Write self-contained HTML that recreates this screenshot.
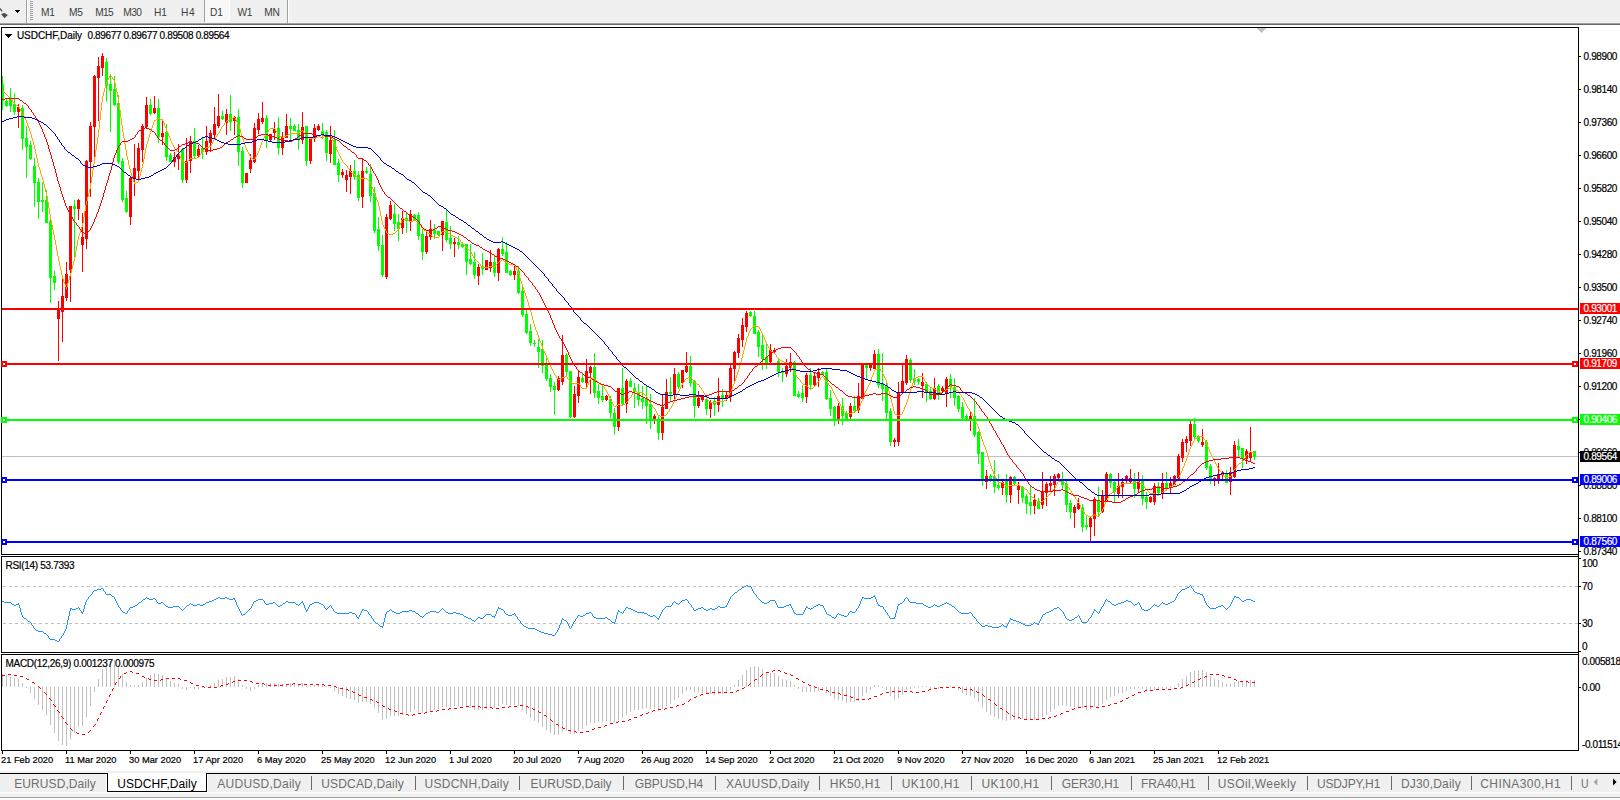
<!DOCTYPE html><html><head><meta charset="utf-8"><title>USDCHF,Daily</title><style>
html,body{margin:0;padding:0;background:#fff}
body{width:1620px;height:800px;position:relative;overflow:hidden;font-family:"Liberation Sans",sans-serif;color:#000}
.t{position:absolute;white-space:nowrap;line-height:12px;font-size:9px;-webkit-text-stroke:0.2px}
.ax{left:1584px}
.w{color:#fff}
.tb{position:absolute;left:0;top:0;width:1620px;height:23px;background:#f0f0f0}
.tf{position:absolute;top:7px;font-size:10.2px;line-height:12px;color:#404040;white-space:nowrap}
.tab{position:absolute;top:777px;font-size:12px;line-height:14px;color:#6e6e6e;white-space:nowrap}
svg{position:absolute;left:0;top:0}
</style></head><body>
<div class="tb"></div>
<div style="position:absolute;left:0;top:23px;width:1620px;height:1px;background:#a0a0a0"></div>
<div style="position:absolute;left:0;top:24px;width:1620px;height:1px;background:#696969"></div>
<div style="position:absolute;left:26px;top:0;width:1px;height:23px;background:#a0a0a0"></div><div style="position:absolute;left:27px;top:0;width:1px;height:23px;background:#fff"></div>
<div style="position:absolute;left:287px;top:0;width:1px;height:23px;background:#a0a0a0"></div><div style="position:absolute;left:288px;top:0;width:1px;height:23px;background:#fff"></div>
<div style="position:absolute;left:30px;top:1px;width:3px;height:20px;background:repeating-linear-gradient(#a0a0a0 0 1px,#f0f0f0 1px 2px)"></div>
<div style="position:absolute;left:204px;top:0;width:1px;height:22px;background:#a0a0a0"></div><div style="position:absolute;left:205px;top:0;width:24px;height:21px;background:#f8f8f8"></div><div style="position:absolute;left:229px;top:0;width:1px;height:22px;background:#fff"></div><div style="position:absolute;left:205px;top:21px;width:25px;height:1px;background:#fff"></div>
<span class="tf" style="left:41.1px;letter-spacing:-0.43px">M1</span>
<span class="tf" style="left:69.0px;letter-spacing:-0.33px">M5</span>
<span class="tf" style="left:95.2px;letter-spacing:-0.65px">M15</span>
<span class="tf" style="left:123.3px;letter-spacing:-0.65px">M30</span>
<span class="tf" style="left:154.0px;letter-spacing:-0.21px">H1</span>
<span class="tf" style="left:180.9px;letter-spacing:0.69px">H4</span>
<span class="tf" style="left:210.0px;letter-spacing:-0.21px">D1</span>
<span class="tf" style="left:237.4px;letter-spacing:-0.16px">W1</span>
<span class="tf" style="left:264.2px;letter-spacing:-0.22px">MN</span>
<svg width="1620" height="800" viewBox="0 0 1620 800" shape-rendering="crispEdges">
<path d="M15 10h5l-2.5 3z" fill="#000"/><path shape-rendering="auto" d="M1 14.3L4.2 12.7L7.9 14.9L4.5 18.2z" fill="#505050"/><path shape-rendering="auto" d="M-0.5 8.2l2.8 3.2" stroke="#505050" stroke-width="1.4" fill="none"/>
<path d="M5 34h7l-3.5 4z" fill="#000"/>
<rect x="2" y="456" width="1576" height="1" fill="#c0c0c0"/>
<path fill="#00ff00" d="M2 76h1v34h-1zM1 84h3v17h-3zM6 99h1v8h-1zM5 101h3v5h-3zM10 88h1v24h-1zM9 99h3v7h-3zM14 93h1v22h-1zM13 104h3v8h-3zM22 105h1v45h-1zM21 108h3v31h-3zM26 126h1v52h-1zM25 138h3v9h-3zM30 141h1v19h-1zM29 145h3v14h-3zM34 158h1v49h-1zM33 166h3v17h-3zM38 178h1v41h-1zM37 182h3v20h-3zM42 182h1v30h-1zM41 200h3v2h-3zM46 190h1v33h-1zM45 200h3v23h-3zM50 219h1v84h-1zM49 221h3v57h-3zM54 271h1v19h-1zM53 276h3v7h-3zM74 200h1v58h-1zM73 206h3v3h-3zM106 58h1v44h-1zM105 62h3v24h-3zM110 74h1v58h-1zM109 84h3v7h-3zM114 76h1v30h-1zM113 89h3v16h-3zM118 95h1v69h-1zM117 103h3v59h-3zM122 158h1v44h-1zM121 161h3v39h-3zM126 191h1v22h-1zM125 198h3v14h-3zM150 99h1v16h-1zM149 105h3v9h-3zM158 99h1v44h-1zM157 108h3v29h-3zM166 124h1v37h-1zM165 132h3v25h-3zM170 153h1v9h-1zM169 155h3v7h-3zM182 148h1v35h-1zM181 149h3v31h-3zM194 128h1v31h-1zM193 141h3v15h-3zM202 138h1v21h-1zM201 148h3v4h-3zM222 111h1v9h-1zM221 116h3v3h-3zM230 95h1v36h-1zM229 114h3v8h-3zM238 109h1v57h-1zM237 117h3v35h-3zM242 147h1v41h-1zM241 151h3v32h-3zM266 115h1v33h-1zM265 118h3v22h-3zM278 117h1v38h-1zM277 128h3v20h-3zM290 118h1v23h-1zM289 126h3v3h-3zM294 124h1v7h-1zM293 126h3v5h-3zM298 124h1v26h-1zM297 130h3v9h-3zM306 126h1v40h-1zM305 126h3v35h-3zM322 123h1v16h-1zM321 131h3v3h-3zM326 130h1v31h-1zM325 132h3v21h-3zM334 130h1v35h-1zM333 140h3v25h-3zM338 159h1v23h-1zM337 163h3v12h-3zM354 160h1v20h-1zM353 171h3v6h-3zM358 171h1v30h-1zM357 175h3v23h-3zM366 167h1v7h-1zM365 171h3v2h-3zM370 164h1v38h-1zM369 174h3v22h-3zM374 187h1v46h-1zM373 193h3v38h-3zM378 217h1v34h-1zM377 229h3v17h-3zM382 235h1v42h-1zM381 245h3v30h-3zM394 204h1v27h-1zM393 214h3v10h-3zM398 214h1v27h-1zM397 222h3v7h-3zM406 213h1v20h-1zM405 218h3v3h-3zM414 214h1v6h-1zM413 215h3v5h-3zM418 212h1v28h-1zM417 215h3v21h-3zM422 228h1v32h-1zM421 234h3v18h-3zM434 224h1v15h-1zM433 230h3v4h-3zM438 231h1v5h-1zM437 231h3v4h-3zM446 209h1v33h-1zM445 222h3v18h-3zM450 226h1v23h-1zM449 238h3v6h-3zM458 236h1v13h-1zM457 242h3v3h-3zM462 242h1v6h-1zM461 244h3v3h-3zM466 244h1v31h-1zM465 244h3v18h-3zM470 244h1v21h-1zM469 259h3v5h-3zM474 252h1v27h-1zM473 262h3v13h-3zM482 253h1v22h-1zM481 266h3v3h-3zM494 256h1v21h-1zM493 262h3v11h-3zM502 237h1v19h-1zM501 249h3v5h-3zM506 242h1v31h-1zM505 252h3v21h-3zM510 270h1v6h-1zM509 271h3v4h-3zM518 266h1v28h-1zM517 271h3v22h-3zM522 287h1v30h-1zM521 291h3v24h-3zM526 310h1v24h-1zM525 314h3v19h-3zM530 324h1v22h-1zM529 331h3v12h-3zM534 340h1v7h-1zM533 343h3v1h-3zM538 339h1v29h-1zM537 347h3v5h-3zM542 340h1v33h-1zM541 349h3v17h-3zM546 357h1v24h-1zM545 365h3v14h-3zM550 374h1v18h-1zM549 378h3v9h-3zM554 382h1v33h-1zM553 386h3v4h-3zM566 353h1v23h-1zM565 355h3v17h-3zM570 371h1v47h-1zM569 371h3v46h-3zM582 374h1v9h-1zM581 378h3v4h-3zM594 353h1v45h-1zM593 367h3v26h-3zM598 384h1v20h-1zM597 391h3v7h-3zM602 386h1v16h-1zM601 396h3v4h-3zM610 396h1v22h-1zM609 399h3v14h-3zM614 408h1v27h-1zM613 413h3v14h-3zM622 368h1v37h-1zM621 388h3v16h-3zM630 378h1v9h-1zM629 381h3v6h-3zM634 383h1v25h-1zM633 388h3v4h-3zM638 384h1v22h-1zM637 392h3v8h-3zM642 386h1v23h-1zM641 398h3v4h-3zM646 385h1v39h-1zM645 399h3v7h-3zM650 394h1v35h-1zM649 404h3v17h-3zM658 416h1v24h-1zM657 419h3v14h-3zM670 377h1v25h-1zM669 392h3v2h-3zM678 372h1v17h-1zM677 374h3v13h-3zM690 356h1v31h-1zM689 366h3v17h-3zM694 380h1v38h-1zM693 381h3v25h-3zM706 398h1v17h-1zM705 399h3v10h-3zM714 397h1v19h-1zM713 401h3v4h-3zM722 389h1v18h-1zM721 395h3v4h-3zM750 311h1v6h-1zM749 312h3v4h-3zM754 311h1v23h-1zM753 316h3v18h-3zM758 330h1v27h-1zM757 332h3v15h-3zM762 334h1v36h-1zM761 345h3v14h-3zM766 342h1v27h-1zM765 357h3v6h-3zM778 359h1v18h-1zM777 361h3v11h-3zM782 368h1v14h-1zM781 371h3v2h-3zM794 361h1v35h-1zM793 362h3v34h-3zM798 391h1v7h-1zM797 394h3v3h-3zM802 385h1v17h-1zM801 393h3v5h-3zM810 368h1v21h-1zM809 375h3v10h-3zM822 371h1v4h-1zM821 372h3v3h-3zM826 368h1v32h-1zM825 372h3v27h-3zM830 390h1v26h-1zM829 398h3v11h-3zM834 406h1v20h-1zM833 407h3v13h-3zM842 398h1v27h-1zM841 406h3v10h-3zM846 411h1v9h-1zM845 413h3v6h-3zM854 396h1v17h-1zM853 406h3v5h-3zM866 364h1v15h-1zM865 365h3v3h-3zM878 349h1v39h-1zM877 354h3v31h-3zM882 353h1v48h-1zM881 383h3v6h-3zM886 382h1v37h-1zM885 386h3v27h-3zM890 408h1v38h-1zM889 411h3v31h-3zM910 358h1v25h-1zM909 360h3v20h-3zM914 369h1v16h-1zM913 378h3v3h-3zM918 378h1v7h-1zM917 379h3v3h-3zM926 382h1v20h-1zM925 384h3v9h-3zM930 387h1v13h-1zM929 391h3v8h-3zM938 384h1v16h-1zM937 386h3v8h-3zM950 374h1v24h-1zM949 379h3v8h-3zM954 378h1v28h-1zM953 387h3v11h-3zM958 395h1v17h-1zM957 396h3v13h-3zM962 402h1v18h-1zM961 407h3v11h-3zM966 414h1v6h-1zM965 416h3v3h-3zM974 398h1v39h-1zM973 416h3v19h-3zM978 431h1v33h-1zM977 432h3v22h-3zM982 452h1v34h-1zM981 452h3v28h-3zM990 474h1v8h-1zM989 476h3v5h-3zM994 460h1v33h-1zM993 476h3v11h-3zM998 474h1v16h-1zM997 485h3v3h-3zM1006 474h1v29h-1zM1005 481h3v14h-3zM1014 476h1v9h-1zM1013 477h3v7h-3zM1022 486h1v17h-1zM1021 487h3v11h-3zM1026 494h1v20h-1zM1025 496h3v8h-3zM1030 485h1v30h-1zM1029 502h3v4h-3zM1038 498h1v11h-1zM1037 501h3v8h-3zM1062 472h1v18h-1zM1061 481h3v4h-3zM1066 481h1v31h-1zM1065 484h3v21h-3zM1070 500h1v19h-1zM1069 503h3v9h-3zM1082 504h1v28h-1zM1081 507h3v20h-3zM1086 516h1v14h-1zM1085 525h3v2h-3zM1098 487h1v29h-1zM1097 501h3v11h-3zM1110 473h1v15h-1zM1109 474h3v9h-3zM1114 481h1v22h-1zM1113 482h3v10h-3zM1134 473h1v25h-1zM1133 479h3v10h-3zM1142 475h1v30h-1zM1141 481h3v18h-3zM1146 492h1v17h-1zM1145 497h3v5h-3zM1158 482h1v13h-1zM1157 486h3v7h-3zM1166 472h1v19h-1zM1165 483h3v6h-3zM1194 418h1v22h-1zM1193 424h3v13h-3zM1198 435h1v8h-1zM1197 436h3v5h-3zM1206 440h1v30h-1zM1205 442h3v26h-3zM1210 464h1v20h-1zM1209 466h3v14h-3zM1226 470h1v13h-1zM1225 474h3v9h-3zM1238 439h1v19h-1zM1237 446h3v4h-3zM1242 448h1v20h-1zM1241 448h3v11h-3zM1254 451h1v9h-1zM1253 451h3v6h-3z"/>
<path fill="#ff0000" d="M18 104h1v24h-1zM17 107h3v5h-3zM58 301h1v60h-1zM57 309h3v10h-3zM62 279h1v63h-1zM61 296h3v16h-3zM66 262h1v39h-1zM65 274h3v24h-3zM70 206h1v96h-1zM69 206h3v64h-3zM78 199h1v21h-1zM77 200h3v9h-3zM82 213h1v59h-1zM81 237h3v8h-3zM86 160h1v89h-1zM85 161h3v78h-3zM90 122h1v75h-1zM89 126h3v36h-3zM94 75h1v83h-1zM93 76h3v51h-3zM98 57h1v64h-1zM97 66h3v12h-3zM102 53h1v23h-1zM101 56h3v12h-3zM130 176h1v49h-1zM129 178h3v39h-3zM134 144h1v52h-1zM133 168h3v11h-3zM138 143h1v37h-1zM137 148h3v23h-3zM142 124h1v38h-1zM141 126h3v24h-3zM146 97h1v32h-1zM145 105h3v22h-3zM154 96h1v18h-1zM153 108h3v5h-3zM162 121h1v24h-1zM161 133h3v4h-3zM174 152h1v15h-1zM173 157h3v5h-3zM178 144h1v26h-1zM177 154h3v5h-3zM186 138h1v45h-1zM185 161h3v19h-3zM190 136h1v37h-1zM189 141h3v20h-3zM198 145h1v12h-1zM197 149h3v7h-3zM206 126h1v29h-1zM205 141h3v11h-3zM210 130h1v22h-1zM209 133h3v10h-3zM214 107h1v31h-1zM213 124h3v11h-3zM218 94h1v34h-1zM217 116h3v10h-3zM226 109h1v26h-1zM225 114h3v9h-3zM234 116h1v19h-1zM233 117h3v4h-3zM246 173h1v10h-1zM245 173h3v10h-3zM250 154h1v19h-1zM249 160h3v9h-3zM254 123h1v40h-1zM253 128h3v34h-3zM258 113h1v21h-1zM257 119h3v11h-3zM262 102h1v22h-1zM261 118h3v4h-3zM270 134h1v7h-1zM269 134h3v6h-3zM274 122h1v18h-1zM273 129h3v4h-3zM282 132h1v23h-1zM281 137h3v11h-3zM286 114h1v24h-1zM285 126h3v12h-3zM302 112h1v32h-1zM301 127h3v13h-3zM310 137h1v27h-1zM309 138h3v23h-3zM314 124h1v18h-1zM313 128h3v10h-3zM318 124h1v7h-1zM317 126h3v4h-3zM330 126h1v37h-1zM329 140h3v14h-3zM342 169h1v9h-1zM341 172h3v3h-3zM346 170h1v22h-1zM345 175h3v5h-3zM350 165h1v29h-1zM349 171h3v6h-3zM362 158h1v50h-1zM361 171h3v26h-3zM386 214h1v65h-1zM385 217h3v60h-3zM390 201h1v19h-1zM389 205h3v14h-3zM402 211h1v23h-1zM401 218h3v10h-3zM410 210h1v21h-1zM409 214h3v7h-3zM426 230h1v24h-1zM425 236h3v16h-3zM430 220h1v20h-1zM429 229h3v8h-3zM442 221h1v30h-1zM441 221h3v14h-3zM454 238h1v19h-1zM453 242h3v2h-3zM478 264h1v21h-1zM477 267h3v9h-3zM486 260h1v10h-1zM485 260h3v10h-3zM490 250h1v22h-1zM489 262h3v6h-3zM498 248h1v33h-1zM497 249h3v24h-3zM514 264h1v16h-1zM513 271h3v4h-3zM558 376h1v15h-1zM557 378h3v12h-3zM562 335h1v50h-1zM561 355h3v27h-3zM574 386h1v32h-1zM573 394h3v23h-3zM578 371h1v32h-1zM577 377h3v19h-3zM586 359h1v28h-1zM585 371h3v12h-3zM590 366h1v28h-1zM589 367h3v6h-3zM606 395h1v6h-1zM605 396h3v4h-3zM618 388h1v43h-1zM617 388h3v39h-3zM626 379h1v34h-1zM625 381h3v23h-3zM654 414h1v10h-1zM653 416h3v4h-3zM662 394h1v46h-1zM661 407h3v26h-3zM666 379h1v30h-1zM665 392h3v17h-3zM674 368h1v33h-1zM673 374h3v20h-3zM682 370h1v18h-1zM681 370h3v13h-3zM686 352h1v21h-1zM685 366h3v6h-3zM698 391h1v17h-1zM697 398h3v8h-3zM702 396h1v6h-1zM701 396h3v4h-3zM710 400h1v18h-1zM709 402h3v7h-3zM718 378h1v34h-1zM717 396h3v9h-3zM726 392h1v9h-1zM725 395h3v4h-3zM730 365h1v37h-1zM729 368h3v29h-3zM734 351h1v30h-1zM733 352h3v17h-3zM738 334h1v24h-1zM737 338h3v15h-3zM742 318h1v29h-1zM741 325h3v15h-3zM746 311h1v21h-1zM745 313h3v14h-3zM770 344h1v19h-1zM769 350h3v12h-3zM774 348h1v5h-1zM773 350h3v2h-3zM786 359h1v18h-1zM785 366h3v8h-3zM790 353h1v19h-1zM789 362h3v6h-3zM806 373h1v30h-1zM805 375h3v22h-3zM814 372h1v14h-1zM813 376h3v9h-3zM818 368h1v19h-1zM817 372h3v6h-3zM838 403h1v21h-1zM837 406h3v14h-3zM850 403h1v17h-1zM849 406h3v11h-3zM858 383h1v30h-1zM857 396h3v14h-3zM862 364h1v35h-1zM861 365h3v34h-3zM870 364h1v7h-1zM869 365h3v3h-3zM874 350h1v19h-1zM873 354h3v15h-3zM894 438h1v9h-1zM893 440h3v2h-3zM898 382h1v64h-1zM897 392h3v50h-3zM902 364h1v29h-1zM901 381h3v11h-3zM906 355h1v30h-1zM905 359h3v24h-3zM922 373h1v25h-1zM921 382h3v4h-3zM934 378h1v22h-1zM933 388h3v11h-3zM942 386h1v6h-1zM941 388h3v3h-3zM946 377h1v30h-1zM945 379h3v14h-3zM970 412h1v19h-1zM969 416h3v4h-3zM986 470h1v19h-1zM985 476h3v6h-3zM1002 481h1v14h-1zM1001 482h3v6h-3zM1010 476h1v27h-1zM1009 477h3v18h-3zM1018 482h1v22h-1zM1017 486h3v4h-3zM1034 494h1v20h-1zM1033 500h3v6h-3zM1042 472h1v37h-1zM1041 491h3v14h-3zM1046 482h1v24h-1zM1045 484h3v9h-3zM1050 476h1v16h-1zM1049 483h3v3h-3zM1054 474h1v22h-1zM1053 476h3v9h-3zM1058 473h1v7h-1zM1057 474h3v4h-3zM1074 505h1v23h-1zM1073 507h3v6h-3zM1078 498h1v12h-1zM1077 503h3v6h-3zM1090 517h1v25h-1zM1089 518h3v9h-3zM1094 497h1v39h-1zM1093 499h3v20h-3zM1102 490h1v23h-1zM1101 496h3v16h-3zM1106 472h1v30h-1zM1105 474h3v27h-3zM1118 473h1v25h-1zM1117 486h3v8h-3zM1122 478h1v20h-1zM1121 482h3v5h-3zM1126 475h1v9h-1zM1125 476h3v5h-3zM1130 469h1v14h-1zM1129 478h3v4h-3zM1138 472h1v21h-1zM1137 481h3v8h-3zM1150 496h1v7h-1zM1149 497h3v5h-3zM1154 483h1v22h-1zM1153 486h3v16h-3zM1162 473h1v26h-1zM1161 483h3v10h-3zM1170 477h1v16h-1zM1169 483h3v5h-3zM1174 475h1v10h-1zM1173 476h3v9h-3zM1178 454h1v27h-1zM1177 456h3v24h-3zM1182 439h1v23h-1zM1181 442h3v16h-3zM1186 436h1v16h-1zM1185 439h3v4h-3zM1190 421h1v25h-1zM1189 424h3v17h-3zM1202 429h1v18h-1zM1201 442h3v3h-3zM1214 477h1v9h-1zM1213 478h3v2h-3zM1218 463h1v21h-1zM1217 474h3v6h-3zM1222 471h1v8h-1zM1221 472h3v3h-3zM1230 467h1v28h-1zM1229 472h3v10h-3zM1234 441h1v37h-1zM1233 445h3v32h-3zM1246 449h1v15h-1zM1245 451h3v8h-3zM1250 427h1v35h-1zM1249 452h3v6h-3z"/>
<path fill="#ffa500" d="M2 90h1v1h-1zM3 91h1v1h-1zM4 92h1v1h-1zM5 93h1v1h-1zM6 94h1v1h-1zM7 95h1v1h-1zM8 96h1v1h-1zM9 97h1v1h-1zM10 98h1v1h-1zM11 99h1v1h-1zM12 100h1v2h-1zM13 102h1v1h-1zM14 103h1v1h-1zM15 104h1v1h-1zM16 105h2v1h-2zM18 106h1v1h-1zM19 107h1v2h-1zM20 109h1v2h-1zM21 111h1v2h-1zM22 113h1v1h-1zM23 114h1v2h-1zM24 116h1v2h-1zM25 118h1v2h-1zM26 120h1v3h-1zM27 123h1v3h-1zM28 126h1v2h-1zM29 128h1v3h-1zM30 131h1v3h-1zM31 134h1v4h-1zM32 138h1v3h-1zM33 141h1v4h-1zM34 145h1v4h-1zM35 149h1v5h-1zM36 154h1v4h-1zM37 158h1v5h-1zM38 163h1v4h-1zM39 167h1v3h-1zM40 170h1v4h-1zM41 174h1v3h-1zM42 177h1v3h-1zM43 180h1v4h-1zM44 184h1v4h-1zM45 188h1v4h-1zM46 192h1v4h-1zM47 196h1v6h-1zM48 202h1v6h-1zM49 208h1v6h-1zM50 214h1v6h-1zM51 220h1v5h-1zM52 225h1v5h-1zM53 230h1v5h-1zM54 235h1v5h-1zM55 240h1v5h-1zM56 245h1v6h-1zM57 251h1v5h-1zM58 256h1v5h-1zM59 261h1v5h-1zM60 266h1v4h-1zM61 270h1v5h-1zM62 275h1v4h-1zM63 279h1v3h-1zM64 282h1v2h-1zM65 284h1v3h-1zM66 287h1v2h-1zM67 283h1v4h-1zM68 280h1v3h-1zM69 276h1v4h-1zM70 273h1v3h-1zM71 269h1v4h-1zM72 265h1v4h-1zM73 261h1v4h-1zM74 257h1v4h-1zM75 251h1v6h-1zM76 246h1v5h-1zM77 240h1v6h-1zM78 236h1v4h-1zM79 233h1v3h-1zM80 230h1v3h-1zM81 227h1v3h-1zM82 223h1v4h-1zM83 217h1v6h-1zM84 211h1v6h-1zM85 205h1v6h-1zM86 201h1v4h-1zM87 197h1v4h-1zM88 193h1v4h-1zM89 189h1v4h-1zM90 183h1v6h-1zM91 177h1v6h-1zM92 170h1v7h-1zM93 164h1v6h-1zM94 157h1v7h-1zM95 150h1v7h-1zM96 144h1v6h-1zM97 137h1v7h-1zM98 129h1v8h-1zM99 120h1v9h-1zM100 111h1v9h-1zM101 102h1v9h-1zM102 96h1v6h-1zM103 92h1v4h-1zM104 88h1v4h-1zM105 84h1v4h-1zM106 82h1v2h-1zM107 80h1v2h-1zM108 78h1v2h-1zM109 76h1v2h-1zM110 75h1v1h-1zM111 76h1v1h-1zM112 77h1v2h-1zM113 79h1v1h-1zM114 80h1v3h-1zM115 83h1v5h-1zM116 88h1v4h-1zM117 92h1v5h-1zM118 97h1v6h-1zM119 103h1v7h-1zM120 110h1v8h-1zM121 118h1v7h-1zM122 125h1v7h-1zM123 132h1v6h-1zM124 138h1v6h-1zM125 144h1v6h-1zM126 150h1v6h-1zM127 156h1v4h-1zM128 160h1v5h-1zM129 165h1v4h-1zM130 169h1v4h-1zM131 173h1v3h-1zM132 176h1v3h-1zM133 179h1v3h-1zM134 182h1v1h-1zM134 183h2v1h-2zM136 182h2v1h-2zM138 180h1v2h-1zM139 176h1v4h-1zM140 172h1v4h-1zM141 168h1v4h-1zM142 164h1v4h-1zM143 159h1v5h-1zM144 153h1v6h-1zM145 148h1v5h-1zM146 144h1v4h-1zM147 141h1v3h-1zM148 137h1v4h-1zM149 134h1v3h-1zM150 131h1v3h-1zM151 128h1v3h-1zM152 125h1v3h-1zM153 122h1v3h-1zM154 121h1v1h-1zM154 120h2v1h-2zM156 119h2v1h-2zM158 118h2v1h-2zM160 119h3v1h-3zM162 120h1v1h-1zM163 121h1v2h-1zM164 123h1v3h-1zM165 126h1v2h-1zM166 128h1v3h-1zM167 131h1v2h-1zM168 133h1v3h-1zM169 136h1v2h-1zM170 138h1v3h-1zM171 141h1v2h-1zM172 143h1v2h-1zM173 145h1v2h-1zM174 147h1v2h-1zM175 149h1v1h-1zM176 150h1v1h-1zM177 151h1v1h-1zM178 152h1v2h-1zM179 154h1v2h-1zM180 156h1v2h-1zM181 158h1v2h-1zM182 160h1v1h-1zM182 161h2v1h-2zM184 162h3v1h-3zM187 161h1v1h-1zM188 160h1v1h-1zM189 159h1v1h-1zM190 158h7v1h-7zM197 157h2v1h-2zM199 155h1v2h-1zM200 154h1v1h-1zM201 152h1v2h-1zM202 151h1v1h-1zM203 150h1v1h-1zM204 149h1v1h-1zM205 148h1v1h-1zM206 147h3v1h-3zM209 146h2v1h-2zM211 144h1v2h-1zM212 142h1v2h-1zM213 140h1v2h-1zM214 139h1v1h-1zM215 137h1v2h-1zM216 136h1v1h-1zM217 134h1v2h-1zM218 133h1v1h-1zM219 131h1v2h-1zM220 129h1v2h-1zM221 127h1v2h-1zM222 126h1v1h-1zM223 125h1v1h-1zM224 123h1v2h-1zM225 122h1v1h-1zM226 121h1v1h-1zM227 120h2v1h-2zM229 119h1v1h-1zM230 118h3v1h-3zM233 117h2v1h-2zM235 118h1v2h-1zM236 120h1v2h-1zM237 122h1v2h-1zM238 124h1v2h-1zM239 126h1v3h-1zM240 129h1v4h-1zM241 133h1v3h-1zM242 136h1v3h-1zM243 139h1v3h-1zM244 142h1v3h-1zM245 145h1v3h-1zM246 148h1v2h-1zM247 150h1v2h-1zM248 152h1v2h-1zM249 154h1v2h-1zM250 156h1v2h-1zM251 158h2v1h-2zM253 159h2v1h-2zM255 157h1v2h-1zM256 155h1v2h-1zM257 153h1v2h-1zM258 151h1v2h-1zM259 148h1v3h-1zM260 145h1v3h-1zM261 142h1v3h-1zM262 140h1v2h-1zM263 138h1v2h-1zM264 136h1v2h-1zM265 134h1v2h-1zM266 133h1v1h-1zM267 132h1v1h-1zM268 130h1v2h-1zM269 129h1v1h-1zM270 128h5v1h-5zM275 129h1v2h-1zM276 131h1v1h-1zM277 132h1v2h-1zM278 134h1v1h-1zM279 135h1v1h-1zM280 136h2v1h-2zM282 137h2v1h-2zM284 136h2v1h-2zM286 135h2v1h-2zM288 134h2v1h-2zM290 133h7v1h-7zM297 132h3v1h-3zM300 131h2v1h-2zM302 130h1v1h-1zM303 131h1v2h-1zM304 133h1v1h-1zM305 134h1v2h-1zM306 136h1v1h-1zM307 137h2v1h-2zM309 138h7v1h-7zM316 137h2v1h-2zM318 136h2v1h-2zM320 137h4v1h-4zM324 136h2v1h-2zM326 135h2v1h-2zM328 136h3v1h-3zM331 137h1v2h-1zM332 139h1v2h-1zM333 141h1v2h-1zM334 143h1v2h-1zM335 145h1v2h-1zM336 147h1v3h-1zM337 150h1v2h-1zM338 152h1v2h-1zM339 154h1v2h-1zM340 156h1v2h-1zM341 158h1v2h-1zM342 160h1v2h-1zM343 162h1v1h-1zM344 163h1v1h-1zM345 164h1v1h-1zM346 165h1v1h-1zM347 166h1v2h-1zM348 168h1v1h-1zM349 169h1v2h-1zM350 171h1v1h-1zM351 172h1v1h-1zM352 173h2v1h-2zM354 174h1v1h-1zM355 175h1v1h-1zM356 176h1v1h-1zM357 177h1v1h-1zM358 178h9v1h-9zM367 179h1v1h-1zM368 180h1v1h-1zM369 181h1v1h-1zM370 182h1v2h-1zM371 184h1v3h-1zM372 187h1v2h-1zM373 189h1v3h-1zM374 192h1v3h-1zM375 195h1v2h-1zM376 197h1v3h-1zM377 200h1v2h-1zM378 202h1v4h-1zM379 206h1v5h-1zM380 211h1v5h-1zM381 216h1v5h-1zM382 221h1v4h-1zM383 225h1v2h-1zM384 227h1v2h-1zM385 229h1v2h-1zM386 231h1v2h-1zM387 233h2v1h-2zM389 234h4v1h-4zM393 233h2v1h-2zM395 232h1v1h-1zM396 231h1v1h-1zM397 230h1v1h-1zM398 228h1v2h-1zM399 225h1v3h-1zM400 223h1v2h-1zM401 220h1v3h-1zM402 219h1v1h-1zM402 218h2v1h-2zM404 219h3v1h-3zM407 220h2v1h-2zM409 221h4v1h-4zM413 220h3v1h-3zM416 221h3v1h-3zM419 222h1v2h-1zM420 224h1v2h-1zM421 226h1v2h-1zM422 228h1v1h-1zM423 229h1v1h-1zM424 230h2v1h-2zM426 231h1v1h-1zM427 232h1v1h-1zM428 233h2v1h-2zM430 234h1v1h-1zM431 235h1v1h-1zM432 236h2v1h-2zM434 237h5v1h-5zM439 235h1v2h-1zM440 234h1v1h-1zM441 232h1v2h-1zM442 231h5v1h-5zM447 232h1v1h-1zM448 233h2v1h-2zM450 234h1v1h-1zM451 235h2v1h-2zM453 236h2v1h-2zM455 237h2v1h-2zM457 238h2v1h-2zM459 239h1v1h-1zM460 240h1v2h-1zM461 242h1v1h-1zM462 243h1v1h-1zM463 244h1v1h-1zM464 245h1v1h-1zM465 246h1v1h-1zM466 247h1v1h-1zM467 248h1v1h-1zM468 249h1v1h-1zM469 250h1v1h-1zM470 251h1v1h-1zM471 252h1v2h-1zM472 254h1v2h-1zM473 256h1v2h-1zM474 258h1v1h-1zM475 259h1v1h-1zM476 260h1v1h-1zM477 261h1v1h-1zM478 262h1v1h-1zM479 263h1v1h-1zM480 264h1v2h-1zM481 266h1v1h-1zM482 267h7v1h-7zM489 266h6v1h-6zM495 265h1v1h-1zM496 264h1v1h-1zM497 263h1v1h-1zM498 262h1v1h-1zM499 261h2v1h-2zM501 260h1v1h-1zM502 259h1v1h-1zM503 260h1v1h-1zM504 261h2v1h-2zM506 262h1v1h-1zM507 263h2v1h-2zM509 264h6v1h-6zM514 265h1v1h-1zM515 266h1v2h-1zM516 268h1v2h-1zM517 270h1v2h-1zM518 272h1v3h-1zM519 275h1v3h-1zM520 278h1v3h-1zM521 281h1v3h-1zM522 284h1v3h-1zM523 287h1v3h-1zM524 290h1v3h-1zM525 293h1v3h-1zM526 296h1v3h-1zM527 299h1v3h-1zM528 302h1v4h-1zM529 306h1v3h-1zM530 309h1v3h-1zM531 312h1v4h-1zM532 316h1v4h-1zM533 320h1v4h-1zM534 324h1v3h-1zM535 327h1v3h-1zM536 330h1v2h-1zM537 332h1v3h-1zM538 335h1v3h-1zM539 338h1v3h-1zM540 341h1v2h-1zM541 343h1v3h-1zM542 346h1v3h-1zM543 349h1v2h-1zM544 351h1v2h-1zM545 353h1v2h-1zM546 355h1v3h-1zM547 358h1v2h-1zM548 360h1v2h-1zM549 362h1v2h-1zM550 364h1v3h-1zM551 367h1v2h-1zM552 369h1v2h-1zM553 371h1v2h-1zM554 373h1v2h-1zM555 375h1v1h-1zM556 376h1v2h-1zM557 378h1v1h-1zM558 379h2v1h-2zM560 378h2v1h-2zM562 377h3v1h-3zM565 376h2v1h-2zM567 377h1v2h-1zM568 379h1v1h-1zM569 380h1v2h-1zM570 382h2v1h-2zM572 383h7v1h-7zM579 384h1v1h-1zM580 385h1v2h-1zM581 387h1v1h-1zM582 388h5v1h-5zM586 387h1v1h-1zM587 385h1v2h-1zM588 382h1v3h-1zM589 380h1v2h-1zM590 379h1v1h-1zM590 378h5v1h-5zM595 379h1v1h-1zM596 380h1v1h-1zM597 381h1v1h-1zM598 382h1v1h-1zM599 383h1v1h-1zM600 384h2v1h-2zM602 385h1v1h-1zM603 386h1v1h-1zM604 387h1v2h-1zM605 389h1v1h-1zM606 390h1v2h-1zM607 392h1v2h-1zM608 394h1v2h-1zM609 396h1v2h-1zM610 398h1v2h-1zM611 400h1v2h-1zM612 402h1v2h-1zM613 404h1v2h-1zM614 406h2v1h-2zM616 405h2v1h-2zM618 404h2v1h-2zM620 405h3v1h-3zM623 404h2v1h-2zM625 403h1v1h-1zM626 402h1v1h-1zM627 401h1v1h-1zM628 399h1v2h-1zM629 398h1v1h-1zM630 397h1v1h-1zM631 395h1v2h-1zM632 393h1v2h-1zM633 391h1v2h-1zM634 390h1v1h-1zM635 391h2v1h-2zM637 392h6v1h-6zM643 393h1v1h-1zM644 394h1v1h-1zM645 395h1v1h-1zM646 396h1v1h-1zM647 397h1v2h-1zM648 399h1v2h-1zM649 401h1v2h-1zM650 403h1v1h-1zM651 404h1v1h-1zM652 405h1v2h-1zM653 407h1v1h-1zM654 408h1v1h-1zM655 409h1v2h-1zM656 411h1v2h-1zM657 413h1v2h-1zM658 415h2v1h-2zM660 416h4v1h-4zM664 415h2v1h-2zM666 414h1v1h-1zM667 412h1v2h-1zM668 411h1v1h-1zM669 409h1v2h-1zM670 408h1v1h-1zM671 406h1v2h-1zM672 404h1v2h-1zM673 402h1v2h-1zM674 399h1v3h-1zM675 397h1v2h-1zM676 395h1v2h-1zM677 393h1v2h-1zM678 391h1v2h-1zM679 389h1v2h-1zM680 387h1v2h-1zM681 385h1v2h-1zM682 383h1v2h-1zM683 382h1v1h-1zM684 380h1v2h-1zM685 379h1v1h-1zM686 378h2v1h-2zM688 377h2v1h-2zM690 376h1v1h-1zM691 377h1v2h-1zM692 379h1v1h-1zM693 380h1v2h-1zM694 382h1v1h-1zM695 383h2v1h-2zM697 384h2v1h-2zM699 385h1v2h-1zM700 387h1v1h-1zM701 388h1v2h-1zM702 390h1v1h-1zM703 391h1v2h-1zM704 393h1v2h-1zM705 395h1v2h-1zM706 397h1v2h-1zM707 399h1v1h-1zM708 400h1v1h-1zM709 401h1v1h-1zM710 402h7v1h-7zM717 401h7v1h-7zM724 400h2v1h-2zM726 399h1v1h-1zM727 397h1v2h-1zM728 395h1v2h-1zM729 393h1v2h-1zM730 391h1v2h-1zM731 389h1v2h-1zM732 386h1v3h-1zM733 384h1v2h-1zM734 381h1v3h-1zM735 378h1v3h-1zM736 375h1v3h-1zM737 372h1v3h-1zM738 369h1v3h-1zM739 365h1v4h-1zM740 362h1v3h-1zM741 358h1v4h-1zM742 354h1v4h-1zM743 350h1v4h-1zM744 346h1v4h-1zM745 342h1v4h-1zM746 338h1v4h-1zM747 336h1v2h-1zM748 333h1v3h-1zM749 331h1v2h-1zM750 329h1v2h-1zM751 328h1v1h-1zM752 327h1v1h-1zM753 326h1v1h-1zM754 325h2v1h-2zM756 326h3v1h-3zM759 327h1v2h-1zM760 329h1v2h-1zM761 331h1v2h-1zM762 333h1v2h-1zM763 335h1v2h-1zM764 337h1v3h-1zM765 340h1v2h-1zM766 342h1v2h-1zM767 344h1v2h-1zM768 346h1v2h-1zM769 348h1v2h-1zM770 350h1v1h-1zM771 351h1v1h-1zM772 352h2v1h-2zM774 353h1v1h-1zM775 354h1v1h-1zM776 355h1v2h-1zM777 357h1v1h-1zM778 358h1v1h-1zM779 359h1v1h-1zM780 360h2v1h-2zM782 361h2v1h-2zM784 362h3v1h-3zM787 363h2v1h-2zM789 364h2v1h-2zM790 365h1v1h-1zM791 366h1v2h-1zM792 368h1v2h-1zM793 370h1v2h-1zM794 372h1v2h-1zM795 374h1v1h-1zM796 375h1v2h-1zM797 377h1v1h-1zM798 378h1v1h-1zM799 379h1v1h-1zM800 380h1v2h-1zM801 382h1v1h-1zM802 383h1v1h-1zM803 384h2v1h-2zM805 385h2v1h-2zM807 386h1v1h-1zM808 387h1v1h-1zM809 388h1v1h-1zM810 389h1v1h-1zM811 388h2v1h-2zM813 387h1v1h-1zM814 386h1v1h-1zM815 385h1v1h-1zM816 383h1v2h-1zM817 382h1v1h-1zM818 381h1v1h-1zM819 380h1v1h-1zM820 378h1v2h-1zM821 377h1v1h-1zM822 376h1v1h-1zM823 377h1v1h-1zM824 378h1v2h-1zM825 380h1v1h-1zM826 381h1v1h-1zM827 382h1v1h-1zM828 383h1v2h-1zM829 385h1v1h-1zM830 386h1v1h-1zM831 387h1v2h-1zM832 389h1v2h-1zM833 391h1v2h-1zM834 393h1v2h-1zM835 395h1v2h-1zM836 397h1v2h-1zM837 399h1v2h-1zM838 401h1v1h-1zM839 402h1v2h-1zM840 404h1v2h-1zM841 406h1v2h-1zM842 408h1v2h-1zM843 410h1v1h-1zM844 411h1v1h-1zM845 412h1v1h-1zM846 413h6v1h-6zM852 412h2v1h-2zM854 411h2v1h-2zM856 410h2v1h-2zM858 408h1v2h-1zM859 406h1v2h-1zM860 403h1v3h-1zM861 401h1v2h-1zM862 398h1v3h-1zM863 396h1v2h-1zM864 393h1v3h-1zM865 391h1v2h-1zM866 389h1v2h-1zM867 387h1v2h-1zM868 385h1v2h-1zM869 383h1v2h-1zM870 380h1v3h-1zM871 377h1v3h-1zM872 375h1v2h-1zM873 372h1v3h-1zM874 370h1v2h-1zM875 369h2v1h-2zM877 368h1v1h-1zM878 367h1v1h-1zM879 368h1v1h-1zM880 369h1v2h-1zM881 371h1v1h-1zM882 372h1v2h-1zM883 374h1v2h-1zM884 376h1v2h-1zM885 378h1v2h-1zM886 380h1v3h-1zM887 383h1v4h-1zM888 387h1v4h-1zM889 391h1v4h-1zM890 395h1v4h-1zM891 399h1v4h-1zM892 403h1v4h-1zM893 407h1v4h-1zM894 411h1v3h-1zM895 414h2v1h-2zM897 415h3v1h-3zM900 414h2v1h-2zM902 412h1v2h-1zM903 410h1v2h-1zM904 407h1v3h-1zM905 405h1v2h-1zM906 402h1v3h-1zM907 399h1v3h-1zM908 395h1v4h-1zM909 392h1v3h-1zM910 389h1v3h-1zM911 386h1v3h-1zM912 383h1v3h-1zM913 380h1v3h-1zM914 379h1v1h-1zM914 378h2v1h-2zM916 377h2v1h-2zM918 376h5v1h-5zM923 377h1v2h-1zM924 379h1v2h-1zM925 381h1v2h-1zM926 383h1v1h-1zM927 384h1v1h-1zM928 385h1v1h-1zM929 386h1v1h-1zM930 387h2v1h-2zM932 388h3v1h-3zM935 389h1v1h-1zM936 390h2v1h-2zM938 391h2v1h-2zM940 392h3v1h-3zM943 391h2v1h-2zM945 390h1v1h-1zM946 389h2v1h-2zM948 388h2v1h-2zM950 387h2v1h-2zM952 388h3v1h-3zM955 389h1v1h-1zM956 390h2v1h-2zM958 391h1v1h-1zM959 392h1v2h-1zM960 394h1v1h-1zM961 395h1v2h-1zM962 397h1v1h-1zM963 398h1v2h-1zM964 400h1v2h-1zM965 402h1v2h-1zM966 404h1v2h-1zM967 406h1v2h-1zM968 408h1v1h-1zM969 409h1v2h-1zM970 411h1v1h-1zM971 412h1v2h-1zM972 414h1v2h-1zM973 416h1v2h-1zM974 418h1v2h-1zM975 420h1v2h-1zM976 422h1v2h-1zM977 424h1v2h-1zM978 426h1v3h-1zM979 429h1v3h-1zM980 432h1v4h-1zM981 436h1v3h-1zM982 439h1v3h-1zM983 442h1v3h-1zM984 445h1v2h-1zM985 447h1v3h-1zM986 450h1v3h-1zM987 453h1v3h-1zM988 456h1v4h-1zM989 460h1v3h-1zM990 463h1v3h-1zM991 466h1v3h-1zM992 469h1v2h-1zM993 471h1v3h-1zM994 474h1v2h-1zM995 476h1v2h-1zM996 478h1v2h-1zM997 480h1v2h-1zM998 482h5v1h-5zM1003 483h1v1h-1zM1004 484h1v1h-1zM1005 485h1v1h-1zM1006 486h3v1h-3zM1009 485h8v1h-8zM1017 484h2v1h-2zM1019 485h1v1h-1zM1020 486h2v1h-2zM1022 487h1v1h-1zM1023 488h2v1h-2zM1025 489h2v1h-2zM1027 490h1v2h-1zM1028 492h1v1h-1zM1029 493h1v2h-1zM1030 495h1v1h-1zM1031 496h1v1h-1zM1032 497h2v1h-2zM1034 498h1v1h-1zM1035 499h1v1h-1zM1036 500h1v1h-1zM1037 501h1v1h-1zM1038 502h3v1h-3zM1041 501h2v1h-2zM1043 500h1v1h-1zM1044 499h1v1h-1zM1045 498h1v1h-1zM1046 497h1v1h-1zM1047 496h1v1h-1zM1048 495h1v1h-1zM1049 494h1v1h-1zM1050 493h1v1h-1zM1051 492h1v1h-1zM1052 490h1v2h-1zM1053 489h1v1h-1zM1054 488h1v1h-1zM1055 486h1v2h-1zM1056 484h1v2h-1zM1057 482h1v2h-1zM1058 481h3v1h-3zM1061 480h2v1h-2zM1063 481h1v1h-1zM1064 482h1v1h-1zM1065 483h1v1h-1zM1066 484h1v1h-1zM1067 485h1v2h-1zM1068 487h1v1h-1zM1069 488h1v2h-1zM1070 490h1v1h-1zM1071 491h1v2h-1zM1072 493h1v1h-1zM1073 494h1v2h-1zM1074 496h1v1h-1zM1075 497h1v2h-1zM1076 499h1v1h-1zM1077 500h1v2h-1zM1078 502h1v1h-1zM1079 503h1v2h-1zM1080 505h1v2h-1zM1081 507h1v2h-1zM1082 509h1v2h-1zM1083 511h1v1h-1zM1084 512h1v2h-1zM1085 514h1v1h-1zM1086 515h2v1h-2zM1088 516h4v1h-4zM1092 515h2v1h-2zM1094 514h1v1h-1zM1095 515h2v1h-2zM1097 516h2v1h-2zM1099 514h1v2h-1zM1100 513h1v1h-1zM1101 511h1v2h-1zM1102 509h1v2h-1zM1103 507h1v2h-1zM1104 504h1v3h-1zM1105 502h1v2h-1zM1106 500h1v2h-1zM1107 498h1v2h-1zM1108 496h1v2h-1zM1109 494h1v2h-1zM1110 493h2v1h-2zM1112 492h2v1h-2zM1114 491h1v1h-1zM1115 490h1v1h-1zM1116 488h1v2h-1zM1117 487h1v1h-1zM1118 486h1v1h-1zM1119 485h2v1h-2zM1121 484h1v1h-1zM1122 483h11v1h-11zM1133 482h4v1h-4zM1137 481h2v1h-2zM1139 482h1v1h-1zM1140 483h2v1h-2zM1142 484h1v1h-1zM1143 485h1v1h-1zM1144 486h1v2h-1zM1145 488h1v1h-1zM1146 489h1v1h-1zM1147 490h1v1h-1zM1148 491h1v1h-1zM1149 492h1v1h-1zM1150 493h5v1h-5zM1155 494h2v1h-2zM1157 495h2v1h-2zM1159 494h2v1h-2zM1161 493h1v1h-1zM1162 492h1v1h-1zM1163 491h2v1h-2zM1165 490h1v1h-1zM1166 489h1v1h-1zM1167 488h2v1h-2zM1169 487h1v1h-1zM1170 486h2v1h-2zM1172 485h2v1h-2zM1174 484h1v1h-1zM1175 482h1v2h-1zM1176 480h1v2h-1zM1177 478h1v2h-1zM1178 477h1v1h-1zM1179 475h1v2h-1zM1180 473h1v2h-1zM1181 471h1v2h-1zM1182 468h1v3h-1zM1183 466h1v2h-1zM1184 463h1v3h-1zM1185 461h1v2h-1zM1186 458h1v3h-1zM1187 455h1v3h-1zM1188 452h1v3h-1zM1189 449h1v3h-1zM1190 447h1v2h-1zM1191 445h1v2h-1zM1192 443h1v2h-1zM1193 441h1v2h-1zM1194 439h1v2h-1zM1195 438h2v1h-2zM1197 437h1v1h-1zM1198 436h5v1h-5zM1203 437h1v2h-1zM1204 439h1v1h-1zM1205 440h1v2h-1zM1206 442h1v2h-1zM1207 444h1v3h-1zM1208 447h1v2h-1zM1209 449h1v3h-1zM1210 452h1v2h-1zM1211 454h1v2h-1zM1212 456h1v2h-1zM1213 458h1v2h-1zM1214 460h1v2h-1zM1215 462h1v2h-1zM1216 464h1v2h-1zM1217 466h1v2h-1zM1218 468h1v1h-1zM1219 469h1v2h-1zM1220 471h1v1h-1zM1221 472h1v2h-1zM1222 474h1v1h-1zM1223 475h1v1h-1zM1224 476h2v1h-2zM1226 477h3v1h-3zM1229 476h2v1h-2zM1231 474h1v2h-1zM1232 472h1v2h-1zM1233 470h1v2h-1zM1234 469h1v1h-1zM1235 468h1v1h-1zM1236 466h1v2h-1zM1237 465h1v1h-1zM1238 464h1v1h-1zM1239 463h2v1h-2zM1241 462h1v1h-1zM1242 461h1v1h-1zM1243 459h1v2h-1zM1244 458h1v1h-1zM1245 456h1v2h-1zM1246 455h1v1h-1zM1247 454h1v1h-1zM1248 453h1v1h-1zM1249 452h1v1h-1zM1250 451h1v1h-1zM1251 452h2v1h-2zM1253 453h2v1h-2z"/>
<path fill="#ff0000" d="M2 99h3v1h-3zM5 98h14v1h-14zM19 99h1v1h-1zM20 100h2v1h-2zM22 101h1v1h-1zM23 102h1v1h-1zM24 103h2v1h-2zM26 104h1v1h-1zM27 105h1v1h-1zM28 106h1v2h-1zM29 108h1v1h-1zM30 109h1v1h-1zM31 110h1v2h-1zM32 112h1v1h-1zM33 113h1v2h-1zM34 115h1v1h-1zM35 116h1v2h-1zM36 118h1v1h-1zM37 119h1v2h-1zM38 121h1v2h-1zM39 123h1v2h-1zM40 125h1v2h-1zM41 127h1v2h-1zM42 129h1v3h-1zM43 132h1v2h-1zM44 134h1v3h-1zM45 137h1v2h-1zM46 139h1v3h-1zM47 142h1v3h-1zM48 145h1v4h-1zM49 149h1v3h-1zM50 152h1v3h-1zM51 155h1v4h-1zM52 159h1v3h-1zM53 162h1v4h-1zM54 166h1v3h-1zM55 169h1v4h-1zM56 173h1v4h-1zM57 177h1v4h-1zM58 181h1v3h-1zM59 184h1v3h-1zM60 187h1v4h-1zM61 191h1v3h-1zM62 194h1v3h-1zM63 197h1v3h-1zM64 200h1v3h-1zM65 203h1v3h-1zM66 206h1v2h-1zM67 208h1v2h-1zM68 210h1v2h-1zM69 212h1v2h-1zM70 214h1v1h-1zM71 215h1v2h-1zM72 217h1v2h-1zM73 219h1v2h-1zM74 221h1v1h-1zM75 222h1v1h-1zM76 223h1v2h-1zM77 225h1v1h-1zM78 226h1v1h-1zM79 227h1v2h-1zM80 229h1v1h-1zM81 230h1v2h-1zM82 232h2v1h-2zM84 233h3v1h-3zM87 232h1v1h-1zM88 231h1v1h-1zM89 230h1v1h-1zM90 228h1v2h-1zM91 226h1v2h-1zM92 224h1v2h-1zM93 222h1v2h-1zM94 219h1v3h-1zM95 217h1v2h-1zM96 214h1v3h-1zM97 212h1v2h-1zM98 209h1v3h-1zM99 206h1v3h-1zM100 203h1v3h-1zM101 200h1v3h-1zM102 197h1v3h-1zM103 193h1v4h-1zM104 190h1v3h-1zM105 186h1v4h-1zM106 183h1v3h-1zM107 180h1v3h-1zM108 176h1v4h-1zM109 173h1v3h-1zM110 170h1v3h-1zM111 166h1v4h-1zM112 162h1v4h-1zM113 158h1v4h-1zM114 155h1v3h-1zM115 153h1v2h-1zM116 150h1v3h-1zM117 148h1v2h-1zM118 146h1v2h-1zM119 145h1v1h-1zM120 143h1v2h-1zM121 142h1v1h-1zM122 141h6v1h-6zM128 140h2v1h-2zM130 139h2v1h-2zM132 138h2v1h-2zM134 137h1v1h-1zM135 135h1v2h-1zM136 134h1v1h-1zM137 132h1v2h-1zM138 131h1v1h-1zM139 130h2v1h-2zM141 129h1v1h-1zM142 128h3v1h-3zM145 127h2v1h-2zM147 128h2v1h-2zM149 129h2v1h-2zM151 130h1v1h-1zM152 131h2v1h-2zM154 132h1v1h-1zM155 133h1v2h-1zM156 135h1v1h-1zM157 136h1v2h-1zM158 138h1v1h-1zM159 139h1v1h-1zM160 140h2v1h-2zM162 141h1v1h-1zM163 142h1v1h-1zM164 143h1v2h-1zM165 145h1v1h-1zM166 146h1v1h-1zM167 147h1v1h-1zM168 148h1v1h-1zM169 149h1v1h-1zM170 150h5v1h-5zM175 149h2v1h-2zM177 148h1v1h-1zM178 147h1v1h-1zM179 146h2v1h-2zM181 145h1v1h-1zM182 144h3v1h-3zM185 143h3v1h-3zM188 142h2v1h-2zM190 141h2v1h-2zM192 142h4v1h-4zM196 143h3v1h-3zM199 144h1v1h-1zM200 145h1v1h-1zM201 146h1v1h-1zM202 147h1v1h-1zM203 148h2v1h-2zM205 149h3v1h-3zM208 150h5v1h-5zM213 149h4v1h-4zM217 148h3v1h-3zM220 147h2v1h-2zM222 146h1v1h-1zM223 145h1v1h-1zM224 144h1v1h-1zM225 143h1v1h-1zM226 142h2v1h-2zM228 141h2v1h-2zM230 140h1v1h-1zM231 139h2v1h-2zM233 138h1v1h-1zM234 137h2v1h-2zM236 136h2v1h-2zM238 135h2v1h-2zM240 136h3v1h-3zM243 137h1v1h-1zM244 138h2v1h-2zM246 139h7v1h-7zM253 138h2v1h-2zM255 137h2v1h-2zM257 136h1v1h-1zM258 135h3v1h-3zM261 134h7v1h-7zM268 135h4v1h-4zM272 136h3v1h-3zM275 137h2v1h-2zM277 138h2v1h-2zM279 139h2v1h-2zM281 140h7v1h-7zM288 141h4v1h-4zM292 140h2v1h-2zM294 139h1v1h-1zM295 138h2v1h-2zM297 137h1v1h-1zM298 136h1v1h-1zM299 135h2v1h-2zM301 134h1v1h-1zM302 133h10v1h-10zM312 134h4v1h-4zM316 135h5v1h-5zM321 134h2v1h-2zM323 135h2v1h-2zM325 136h6v1h-6zM331 137h2v1h-2zM333 138h2v1h-2zM335 139h2v1h-2zM337 140h2v1h-2zM339 141h1v1h-1zM340 142h1v1h-1zM341 143h1v1h-1zM342 144h1v1h-1zM343 145h1v1h-1zM344 146h2v1h-2zM346 147h1v1h-1zM347 148h1v1h-1zM348 149h2v1h-2zM350 150h1v1h-1zM351 151h1v1h-1zM352 152h2v1h-2zM354 153h1v1h-1zM355 154h1v1h-1zM356 155h1v2h-1zM357 157h1v1h-1zM358 158h5v1h-5zM363 159h1v1h-1zM364 160h2v1h-2zM366 161h1v1h-1zM367 162h1v1h-1zM368 163h1v2h-1zM369 165h1v1h-1zM370 166h1v1h-1zM371 167h1v2h-1zM372 169h1v2h-1zM373 171h1v2h-1zM374 173h1v1h-1zM375 174h1v2h-1zM376 176h1v2h-1zM377 178h1v2h-1zM378 180h1v3h-1zM379 183h1v2h-1zM380 185h1v2h-1zM381 187h1v2h-1zM382 189h1v2h-1zM383 191h1v1h-1zM384 192h1v2h-1zM385 194h1v1h-1zM386 195h1v1h-1zM387 196h1v1h-1zM388 197h2v1h-2zM390 198h1v1h-1zM391 199h1v1h-1zM392 200h1v1h-1zM393 201h1v1h-1zM394 202h1v1h-1zM395 203h1v1h-1zM396 204h1v1h-1zM397 205h1v1h-1zM398 206h1v1h-1zM399 207h1v1h-1zM400 208h2v1h-2zM402 209h1v1h-1zM403 210h1v1h-1zM404 211h2v1h-2zM406 212h1v1h-1zM407 213h1v1h-1zM408 214h2v1h-2zM410 215h1v1h-1zM411 216h2v1h-2zM413 217h2v1h-2zM415 218h1v1h-1zM416 219h1v1h-1zM417 220h1v1h-1zM418 221h1v1h-1zM419 222h1v2h-1zM420 224h1v1h-1zM421 225h1v2h-1zM422 227h1v1h-1zM423 228h1v1h-1zM424 229h2v1h-2zM426 230h7v1h-7zM433 229h2v1h-2zM435 228h2v1h-2zM437 227h1v1h-1zM438 226h5v1h-5zM443 227h1v1h-1zM444 228h2v1h-2zM446 229h2v1h-2zM448 230h4v1h-4zM452 231h3v1h-3zM455 232h2v1h-2zM457 233h2v1h-2zM459 234h2v1h-2zM461 235h2v1h-2zM463 236h1v1h-1zM464 237h2v1h-2zM466 238h1v1h-1zM467 239h1v1h-1zM468 240h2v1h-2zM470 241h1v1h-1zM471 242h1v1h-1zM472 243h2v1h-2zM474 244h2v1h-2zM476 245h3v1h-3zM479 246h1v1h-1zM480 247h2v1h-2zM482 248h1v1h-1zM483 249h2v1h-2zM485 250h2v1h-2zM487 251h2v1h-2zM489 252h2v1h-2zM491 253h1v1h-1zM492 254h2v1h-2zM494 255h1v1h-1zM495 256h2v1h-2zM497 257h3v1h-3zM500 258h3v1h-3zM503 259h2v1h-2zM505 260h2v1h-2zM507 261h2v1h-2zM509 262h2v1h-2zM511 263h2v1h-2zM513 264h2v1h-2zM515 265h1v1h-1zM516 266h2v1h-2zM518 267h1v1h-1zM519 268h1v1h-1zM520 269h1v1h-1zM521 270h1v1h-1zM522 271h1v1h-1zM523 272h1v1h-1zM524 273h1v2h-1zM525 275h1v1h-1zM526 276h1v1h-1zM527 277h1v1h-1zM528 278h1v2h-1zM529 280h1v1h-1zM530 281h1v1h-1zM531 282h1v1h-1zM532 283h1v2h-1zM533 285h1v1h-1zM534 286h1v1h-1zM535 287h1v2h-1zM536 289h1v1h-1zM537 290h1v2h-1zM538 292h1v1h-1zM539 293h1v2h-1zM540 295h1v2h-1zM541 297h1v2h-1zM542 299h1v2h-1zM543 301h1v2h-1zM544 303h1v2h-1zM545 305h1v2h-1zM546 307h1v2h-1zM547 309h1v2h-1zM548 311h1v2h-1zM549 313h1v2h-1zM550 315h1v3h-1zM551 318h1v2h-1zM552 320h1v3h-1zM553 323h1v2h-1zM554 325h1v3h-1zM555 328h1v2h-1zM556 330h1v2h-1zM557 332h1v2h-1zM558 334h1v2h-1zM559 336h1v2h-1zM560 338h1v1h-1zM561 339h1v2h-1zM562 341h1v1h-1zM563 342h1v2h-1zM564 344h1v2h-1zM565 346h1v2h-1zM566 348h1v2h-1zM567 350h1v2h-1zM568 352h1v3h-1zM569 355h1v2h-1zM570 357h1v2h-1zM571 359h1v2h-1zM572 361h1v2h-1zM573 363h1v2h-1zM574 365h1v1h-1zM575 366h1v1h-1zM576 367h1v2h-1zM577 369h1v1h-1zM578 370h1v1h-1zM579 371h1v1h-1zM580 372h2v1h-2zM582 373h1v1h-1zM583 374h1v1h-1zM584 375h2v1h-2zM586 376h2v1h-2zM588 377h3v1h-3zM591 378h1v1h-1zM592 379h2v1h-2zM594 380h1v1h-1zM595 381h2v1h-2zM597 382h2v1h-2zM599 383h2v1h-2zM601 384h3v1h-3zM604 385h4v1h-4zM608 386h3v1h-3zM611 387h1v1h-1zM612 388h1v1h-1zM613 389h1v1h-1zM614 390h1v1h-1zM615 391h2v1h-2zM617 392h2v1h-2zM619 393h2v1h-2zM621 394h3v1h-3zM624 393h2v1h-2zM626 392h3v1h-3zM629 391h3v1h-3zM632 392h3v1h-3zM635 393h2v1h-2zM637 394h2v1h-2zM639 395h2v1h-2zM641 396h2v1h-2zM643 397h2v1h-2zM645 398h2v1h-2zM647 399h2v1h-2zM649 400h2v1h-2zM651 401h2v1h-2zM653 402h2v1h-2zM655 403h2v1h-2zM657 404h3v1h-3zM660 405h4v1h-4zM664 404h2v1h-2zM666 403h2v1h-2zM668 402h2v1h-2zM670 401h3v1h-3zM673 400h4v1h-4zM677 399h4v1h-4zM681 398h4v1h-4zM685 397h4v1h-4zM689 396h16v1h-16zM705 395h4v1h-4zM709 394h3v1h-3zM712 393h2v1h-2zM714 392h3v1h-3zM717 391h15v1h-15zM732 390h2v1h-2zM734 389h1v1h-1zM735 388h2v1h-2zM737 387h1v1h-1zM738 386h1v1h-1zM739 385h2v1h-2zM741 384h1v1h-1zM742 383h1v1h-1zM743 382h1v1h-1zM744 380h1v2h-1zM745 379h1v1h-1zM746 378h1v1h-1zM747 376h1v2h-1zM748 375h1v1h-1zM749 373h1v2h-1zM750 372h1v1h-1zM751 371h1v1h-1zM752 369h1v2h-1zM753 368h1v1h-1zM754 367h1v1h-1zM755 366h2v1h-2zM757 365h1v1h-1zM758 364h1v1h-1zM759 363h1v1h-1zM760 362h1v1h-1zM761 361h1v1h-1zM762 360h1v1h-1zM763 359h2v1h-2zM765 358h1v1h-1zM766 357h1v1h-1zM767 356h1v1h-1zM768 355h1v1h-1zM769 354h1v1h-1zM770 353h1v1h-1zM771 352h2v1h-2zM773 351h1v1h-1zM774 350h2v1h-2zM776 349h2v1h-2zM778 348h3v1h-3zM781 347h10v1h-10zM791 348h1v1h-1zM792 349h1v1h-1zM793 350h1v1h-1zM794 351h1v1h-1zM795 352h1v1h-1zM796 353h1v2h-1zM797 355h1v1h-1zM798 356h1v1h-1zM799 357h1v2h-1zM800 359h1v1h-1zM801 360h1v2h-1zM802 362h1v1h-1zM803 363h1v1h-1zM804 364h1v2h-1zM805 366h1v1h-1zM806 367h1v1h-1zM807 368h1v1h-1zM808 369h2v1h-2zM810 370h1v1h-1zM811 371h2v1h-2zM813 372h3v1h-3zM816 373h4v1h-4zM820 374h3v1h-3zM823 375h1v1h-1zM824 376h1v1h-1zM825 377h1v1h-1zM826 378h1v1h-1zM827 379h1v1h-1zM828 380h1v1h-1zM829 381h1v1h-1zM830 382h1v1h-1zM831 383h1v1h-1zM832 384h2v1h-2zM834 385h1v1h-1zM835 386h1v1h-1zM836 387h2v1h-2zM838 388h1v1h-1zM839 389h1v1h-1zM840 390h2v1h-2zM842 391h1v1h-1zM843 392h1v1h-1zM844 393h1v1h-1zM845 394h1v1h-1zM846 395h2v1h-2zM848 396h4v1h-4zM852 397h9v1h-9zM861 396h4v1h-4zM865 395h4v1h-4zM869 394h4v1h-4zM873 393h3v1h-3zM876 394h5v1h-5zM881 393h6v1h-6zM887 394h2v1h-2zM889 395h2v1h-2zM891 396h2v1h-2zM893 397h4v1h-4zM897 396h2v1h-2zM899 395h2v1h-2zM901 394h1v1h-1zM902 393h1v1h-1zM903 392h2v1h-2zM905 391h1v1h-1zM906 390h1v1h-1zM907 389h2v1h-2zM909 388h1v1h-1zM910 387h3v1h-3zM913 386h3v1h-3zM916 387h4v1h-4zM920 388h3v1h-3zM923 389h2v1h-2zM925 390h2v1h-2zM927 391h1v1h-1zM928 392h1v1h-1zM929 393h1v1h-1zM930 394h10v1h-10zM940 393h2v1h-2zM942 392h1v1h-1zM943 391h1v1h-1zM944 390h1v1h-1zM945 389h1v1h-1zM946 388h1v1h-1zM947 387h1v1h-1zM948 386h1v1h-1zM949 385h1v1h-1zM950 384h2v1h-2zM952 385h4v1h-4zM956 386h3v1h-3zM959 387h1v1h-1zM960 388h1v2h-1zM961 390h1v1h-1zM962 391h1v1h-1zM963 392h2v1h-2zM965 393h2v1h-2zM967 394h1v1h-1zM968 395h2v1h-2zM970 396h1v1h-1zM971 397h1v1h-1zM972 398h1v1h-1zM973 399h1v1h-1zM974 400h1v1h-1zM975 401h1v1h-1zM976 402h1v2h-1zM977 404h1v1h-1zM978 405h1v1h-1zM979 406h1v2h-1zM980 408h1v1h-1zM981 409h1v2h-1zM982 411h1v1h-1zM983 412h1v1h-1zM984 413h1v2h-1zM985 415h1v1h-1zM986 416h1v1h-1zM987 417h1v2h-1zM988 419h1v2h-1zM989 421h1v2h-1zM990 423h1v1h-1zM991 424h1v2h-1zM992 426h1v2h-1zM993 428h1v2h-1zM994 430h1v1h-1zM995 431h1v2h-1zM996 433h1v2h-1zM997 435h1v2h-1zM998 437h1v1h-1zM999 438h1v2h-1zM1000 440h1v2h-1zM1001 442h1v2h-1zM1002 444h1v1h-1zM1003 445h1v2h-1zM1004 447h1v2h-1zM1005 449h1v2h-1zM1006 451h1v2h-1zM1007 453h1v2h-1zM1008 455h1v1h-1zM1009 456h1v2h-1zM1010 458h1v1h-1zM1011 459h1v1h-1zM1012 460h1v2h-1zM1013 462h1v1h-1zM1014 463h1v1h-1zM1015 464h1v1h-1zM1016 465h1v2h-1zM1017 467h1v1h-1zM1018 468h1v1h-1zM1019 469h1v1h-1zM1020 470h1v2h-1zM1021 472h1v1h-1zM1022 473h1v1h-1zM1023 474h1v2h-1zM1024 476h1v2h-1zM1025 478h1v2h-1zM1026 480h1v1h-1zM1027 481h1v1h-1zM1028 482h1v2h-1zM1029 484h1v1h-1zM1030 485h1v1h-1zM1031 486h1v1h-1zM1032 487h2v1h-2zM1034 488h1v1h-1zM1035 489h2v1h-2zM1037 490h3v1h-3zM1040 491h13v1h-13zM1053 490h8v1h-8zM1061 489h2v1h-2zM1063 490h2v1h-2zM1065 491h2v1h-2zM1067 492h2v1h-2zM1069 493h2v1h-2zM1071 494h2v1h-2zM1073 495h6v1h-6zM1079 496h2v1h-2zM1081 497h3v1h-3zM1084 498h3v1h-3zM1087 499h2v1h-2zM1089 500h4v1h-4zM1093 499h3v1h-3zM1096 500h4v1h-4zM1100 501h12v1h-12zM1112 502h9v1h-9zM1121 501h2v1h-2zM1123 500h2v1h-2zM1125 499h1v1h-1zM1126 498h2v1h-2zM1128 497h2v1h-2zM1130 496h3v1h-3zM1133 495h2v1h-2zM1135 494h2v1h-2zM1137 493h1v1h-1zM1138 492h2v1h-2zM1140 491h2v1h-2zM1142 490h3v1h-3zM1145 489h7v1h-7zM1152 488h2v1h-2zM1154 487h10v1h-10zM1164 488h5v1h-5zM1169 487h4v1h-4zM1173 486h4v1h-4zM1177 485h2v1h-2zM1179 484h2v1h-2zM1181 483h1v1h-1zM1182 482h1v1h-1zM1183 481h2v1h-2zM1185 480h1v1h-1zM1186 479h1v1h-1zM1187 478h1v1h-1zM1188 477h1v1h-1zM1189 476h1v1h-1zM1190 475h1v1h-1zM1191 474h2v1h-2zM1193 473h1v1h-1zM1194 472h1v1h-1zM1195 471h1v1h-1zM1196 469h1v2h-1zM1197 468h1v1h-1zM1198 467h1v1h-1zM1199 466h1v1h-1zM1200 465h1v1h-1zM1201 464h1v1h-1zM1202 463h2v1h-2zM1204 462h2v1h-2zM1206 461h3v1h-3zM1209 460h4v1h-4zM1213 459h8v1h-8zM1221 458h8v1h-8zM1229 457h11v1h-11zM1240 458h3v1h-3zM1243 459h2v1h-2zM1245 460h3v1h-3zM1248 461h3v1h-3zM1251 462h2v1h-2zM1253 463h2v1h-2z"/>
<path fill="#0000cd" d="M2 121h2v1h-2zM4 120h2v1h-2zM6 119h3v1h-3zM9 118h4v1h-4zM13 117h4v1h-4zM17 116h7v1h-7zM24 117h8v1h-8zM32 118h3v1h-3zM35 119h2v1h-2zM37 120h2v1h-2zM39 121h2v1h-2zM41 122h2v1h-2zM43 123h1v1h-1zM44 124h2v1h-2zM46 125h1v1h-1zM47 126h1v1h-1zM48 127h1v1h-1zM49 128h1v1h-1zM50 129h1v1h-1zM51 130h1v1h-1zM52 131h1v1h-1zM53 132h1v1h-1zM54 133h1v1h-1zM55 134h1v2h-1zM56 136h1v1h-1zM57 137h1v2h-1zM58 139h1v1h-1zM59 140h1v2h-1zM60 142h1v1h-1zM61 143h1v2h-1zM62 145h1v1h-1zM63 146h1v1h-1zM64 147h1v2h-1zM65 149h1v1h-1zM66 150h1v1h-1zM67 151h1v1h-1zM68 152h2v1h-2zM70 153h1v1h-1zM71 154h1v1h-1zM72 155h2v1h-2zM74 156h1v1h-1zM75 157h1v1h-1zM76 158h2v1h-2zM78 159h1v1h-1zM79 160h1v1h-1zM80 161h1v2h-1zM81 163h1v1h-1zM82 164h1v1h-1zM83 165h2v1h-2zM85 166h3v1h-3zM88 167h5v1h-5zM93 166h4v1h-4zM97 165h3v1h-3zM100 164h2v1h-2zM102 163h10v1h-10zM112 164h3v1h-3zM115 165h2v1h-2zM117 166h2v1h-2zM119 167h1v1h-1zM120 168h1v1h-1zM121 169h1v1h-1zM122 170h1v1h-1zM123 171h1v1h-1zM124 172h2v1h-2zM126 173h1v1h-1zM127 174h1v1h-1zM128 175h2v1h-2zM130 176h1v1h-1zM131 177h2v1h-2zM133 178h3v1h-3zM136 179h5v1h-5zM141 178h4v1h-4zM145 177h4v1h-4zM149 176h2v1h-2zM151 175h2v1h-2zM153 174h1v1h-1zM154 173h2v1h-2zM156 172h2v1h-2zM158 171h2v1h-2zM160 170h2v1h-2zM162 169h2v1h-2zM164 168h2v1h-2zM166 167h1v1h-1zM167 166h1v1h-1zM168 165h1v1h-1zM169 164h1v1h-1zM170 163h1v1h-1zM171 162h1v1h-1zM172 160h1v2h-1zM173 159h1v1h-1zM174 158h1v1h-1zM175 157h1v1h-1zM176 155h1v2h-1zM177 154h1v1h-1zM178 153h1v1h-1zM179 152h1v1h-1zM180 151h1v1h-1zM181 150h1v1h-1zM182 149h1v1h-1zM183 148h2v1h-2zM185 147h1v1h-1zM186 146h1v1h-1zM187 145h2v1h-2zM189 144h1v1h-1zM190 143h3v1h-3zM193 142h3v1h-3zM196 141h2v1h-2zM198 140h1v1h-1zM199 139h2v1h-2zM201 138h1v1h-1zM202 137h3v1h-3zM205 136h3v1h-3zM208 137h4v1h-4zM212 138h3v1h-3zM215 139h2v1h-2zM217 140h2v1h-2zM219 141h2v1h-2zM221 142h3v1h-3zM224 143h4v1h-4zM228 144h13v1h-13zM241 143h4v1h-4zM245 142h7v1h-7zM252 141h2v1h-2zM254 140h3v1h-3zM257 139h7v1h-7zM264 140h4v1h-4zM268 141h4v1h-4zM272 142h13v1h-13zM285 141h4v1h-4zM289 140h4v1h-4zM293 139h7v1h-7zM300 138h2v1h-2zM302 137h11v1h-11zM313 136h4v1h-4zM317 135h4v1h-4zM321 134h3v1h-3zM324 135h8v1h-8zM332 136h3v1h-3zM335 137h2v1h-2zM337 138h2v1h-2zM339 139h2v1h-2zM341 140h2v1h-2zM343 141h2v1h-2zM345 142h2v1h-2zM347 143h2v1h-2zM349 144h2v1h-2zM351 145h2v1h-2zM353 146h3v1h-3zM356 147h12v1h-12zM368 148h3v1h-3zM371 149h1v1h-1zM372 150h1v1h-1zM373 151h1v1h-1zM374 152h1v1h-1zM375 153h1v1h-1zM376 154h1v1h-1zM377 155h1v1h-1zM378 156h1v1h-1zM379 157h1v1h-1zM380 158h1v2h-1zM381 160h1v1h-1zM382 161h1v1h-1zM383 162h1v1h-1zM384 163h2v1h-2zM386 164h1v1h-1zM387 165h2v1h-2zM389 166h2v1h-2zM391 167h1v1h-1zM392 168h2v1h-2zM394 169h1v1h-1zM395 170h1v1h-1zM396 171h2v1h-2zM398 172h1v1h-1zM399 173h2v1h-2zM401 174h2v1h-2zM403 175h1v1h-1zM404 176h1v1h-1zM405 177h1v1h-1zM406 178h1v1h-1zM407 179h2v1h-2zM409 180h2v1h-2zM411 181h1v1h-1zM412 182h2v1h-2zM414 183h1v1h-1zM415 184h1v1h-1zM416 185h1v1h-1zM417 186h1v1h-1zM418 187h1v1h-1zM419 188h1v1h-1zM420 189h1v1h-1zM421 190h1v1h-1zM422 191h1v1h-1zM423 192h2v1h-2zM425 193h2v1h-2zM427 194h1v1h-1zM428 195h2v1h-2zM430 196h1v1h-1zM431 197h1v1h-1zM432 198h1v1h-1zM433 199h1v1h-1zM434 200h1v1h-1zM435 201h1v1h-1zM436 202h1v1h-1zM437 203h1v1h-1zM438 204h1v1h-1zM439 205h2v1h-2zM441 206h2v1h-2zM443 207h1v1h-1zM444 208h2v1h-2zM446 209h1v1h-1zM447 210h1v1h-1zM448 211h1v1h-1zM449 212h1v1h-1zM450 213h1v1h-1zM451 214h2v1h-2zM453 215h2v1h-2zM455 216h1v1h-1zM456 217h2v1h-2zM458 218h1v1h-1zM459 219h2v1h-2zM461 220h2v1h-2zM463 221h1v1h-1zM464 222h2v1h-2zM466 223h1v1h-1zM467 224h1v1h-1zM468 225h2v1h-2zM470 226h1v1h-1zM471 227h1v1h-1zM472 228h2v1h-2zM474 229h1v1h-1zM475 230h1v1h-1zM476 231h2v1h-2zM478 232h1v1h-1zM479 233h1v1h-1zM480 234h2v1h-2zM482 235h1v1h-1zM483 236h1v1h-1zM484 237h2v1h-2zM486 238h1v1h-1zM487 239h2v1h-2zM489 240h2v1h-2zM491 241h2v1h-2zM493 242h8v1h-8zM501 241h2v1h-2zM503 242h2v1h-2zM505 243h2v1h-2zM507 244h2v1h-2zM509 245h2v1h-2zM511 246h2v1h-2zM513 247h2v1h-2zM515 248h2v1h-2zM517 249h2v1h-2zM519 250h1v1h-1zM520 251h2v1h-2zM522 252h1v1h-1zM523 253h1v1h-1zM524 254h1v1h-1zM525 255h1v1h-1zM526 256h1v1h-1zM527 257h1v1h-1zM528 258h1v1h-1zM529 259h1v1h-1zM530 260h1v1h-1zM531 261h1v1h-1zM532 262h1v1h-1zM533 263h1v1h-1zM534 264h1v1h-1zM535 265h1v1h-1zM536 266h1v1h-1zM537 267h1v1h-1zM538 268h1v1h-1zM539 269h1v1h-1zM540 270h1v1h-1zM541 271h1v1h-1zM542 272h1v1h-1zM543 273h1v1h-1zM544 274h1v2h-1zM545 276h1v1h-1zM546 277h1v1h-1zM547 278h1v1h-1zM548 279h1v2h-1zM549 281h1v1h-1zM550 282h1v1h-1zM551 283h1v1h-1zM552 284h1v2h-1zM553 286h1v1h-1zM554 287h1v1h-1zM555 288h1v1h-1zM556 289h1v2h-1zM557 291h1v1h-1zM558 292h1v1h-1zM559 293h1v1h-1zM560 294h1v1h-1zM561 295h1v1h-1zM562 296h1v1h-1zM563 297h1v1h-1zM564 298h1v2h-1zM565 300h1v1h-1zM566 301h1v1h-1zM567 302h1v1h-1zM568 303h1v2h-1zM569 305h1v1h-1zM570 306h1v1h-1zM571 307h1v2h-1zM572 309h1v1h-1zM573 310h1v2h-1zM574 312h1v1h-1zM575 313h1v1h-1zM576 314h1v1h-1zM577 315h1v1h-1zM578 316h1v1h-1zM579 317h1v1h-1zM580 318h1v2h-1zM581 320h1v1h-1zM582 321h1v1h-1zM583 322h1v1h-1zM584 323h2v1h-2zM586 324h1v1h-1zM587 325h1v1h-1zM588 326h1v1h-1zM589 327h1v1h-1zM590 328h1v1h-1zM591 329h1v1h-1zM592 330h1v1h-1zM593 331h1v1h-1zM594 332h1v1h-1zM595 333h1v1h-1zM596 334h1v1h-1zM597 335h1v1h-1zM598 336h1v1h-1zM599 337h1v1h-1zM600 338h1v1h-1zM601 339h1v1h-1zM602 340h1v1h-1zM603 341h1v1h-1zM604 342h1v2h-1zM605 344h1v1h-1zM606 345h1v1h-1zM607 346h1v1h-1zM608 347h1v2h-1zM609 349h1v1h-1zM610 350h1v1h-1zM611 351h1v1h-1zM612 352h1v2h-1zM613 354h1v1h-1zM614 355h1v1h-1zM615 356h1v1h-1zM616 357h1v2h-1zM617 359h1v1h-1zM618 360h1v1h-1zM619 361h1v1h-1zM620 362h1v2h-1zM621 364h1v1h-1zM622 365h1v1h-1zM623 366h1v1h-1zM624 367h2v1h-2zM626 368h1v1h-1zM627 369h1v1h-1zM628 370h1v1h-1zM629 371h1v1h-1zM630 372h1v1h-1zM631 373h1v1h-1zM632 374h1v1h-1zM633 375h1v1h-1zM634 376h1v1h-1zM635 377h1v1h-1zM636 378h2v1h-2zM638 379h1v1h-1zM639 380h1v1h-1zM640 381h2v1h-2zM642 382h1v1h-1zM643 383h1v1h-1zM644 384h2v1h-2zM646 385h1v1h-1zM647 386h2v1h-2zM649 387h2v1h-2zM651 388h1v1h-1zM652 389h2v1h-2zM654 390h1v1h-1zM655 391h1v1h-1zM656 392h2v1h-2zM658 393h2v1h-2zM660 394h8v1h-8zM668 395h5v1h-5zM673 394h7v1h-7zM680 395h9v1h-9zM689 394h7v1h-7zM696 395h8v1h-8zM704 396h3v1h-3zM707 397h2v1h-2zM709 398h19v1h-19zM728 397h2v1h-2zM730 396h2v1h-2zM732 395h2v1h-2zM734 394h2v1h-2zM736 393h2v1h-2zM738 392h2v1h-2zM740 391h2v1h-2zM742 390h1v1h-1zM743 389h2v1h-2zM745 388h1v1h-1zM746 387h2v1h-2zM748 386h2v1h-2zM750 385h2v1h-2zM752 384h2v1h-2zM754 383h2v1h-2zM756 382h2v1h-2zM758 381h3v1h-3zM761 380h3v1h-3zM764 379h2v1h-2zM766 378h2v1h-2zM768 377h2v1h-2zM770 376h2v1h-2zM772 375h2v1h-2zM774 374h2v1h-2zM776 373h2v1h-2zM778 372h3v1h-3zM781 371h4v1h-4zM785 370h4v1h-4zM789 369h7v1h-7zM796 370h4v1h-4zM800 371h13v1h-13zM813 370h4v1h-4zM817 369h4v1h-4zM821 368h11v1h-11zM832 369h8v1h-8zM840 370h7v1h-7zM847 371h2v1h-2zM849 372h2v1h-2zM851 373h2v1h-2zM853 374h2v1h-2zM855 375h2v1h-2zM857 376h3v1h-3zM860 377h3v1h-3zM863 378h2v1h-2zM865 379h3v1h-3zM868 380h4v1h-4zM872 381h4v1h-4zM876 382h4v1h-4zM880 383h3v1h-3zM883 384h2v1h-2zM885 385h2v1h-2zM887 386h1v1h-1zM888 387h2v1h-2zM890 388h1v1h-1zM891 389h1v1h-1zM892 390h2v1h-2zM894 391h2v1h-2zM896 392h21v1h-21zM917 391h7v1h-7zM924 392h12v1h-12zM936 393h4v1h-4zM940 394h5v1h-5zM945 393h4v1h-4zM949 392h4v1h-4zM953 391h3v1h-3zM956 392h16v1h-16zM972 393h3v1h-3zM975 394h2v1h-2zM977 395h2v1h-2zM979 396h1v1h-1zM980 397h2v1h-2zM982 398h1v1h-1zM983 399h1v1h-1zM984 400h1v1h-1zM985 401h1v1h-1zM986 402h1v1h-1zM987 403h1v1h-1zM988 404h1v1h-1zM989 405h1v1h-1zM990 406h1v1h-1zM991 407h1v1h-1zM992 408h1v1h-1zM993 409h1v1h-1zM994 410h1v1h-1zM995 411h1v1h-1zM996 412h1v1h-1zM997 413h1v1h-1zM998 414h1v1h-1zM999 415h1v1h-1zM1000 416h2v1h-2zM1002 417h1v1h-1zM1003 418h2v1h-2zM1005 419h2v1h-2zM1007 420h2v1h-2zM1009 421h3v1h-3zM1012 422h3v1h-3zM1015 423h1v1h-1zM1016 424h2v1h-2zM1018 425h1v1h-1zM1019 426h1v1h-1zM1020 427h1v1h-1zM1021 428h1v1h-1zM1022 429h1v1h-1zM1023 430h1v1h-1zM1024 431h1v2h-1zM1025 433h1v1h-1zM1026 434h1v1h-1zM1027 435h1v1h-1zM1028 436h1v1h-1zM1029 437h1v1h-1zM1030 438h1v1h-1zM1031 439h1v1h-1zM1032 440h1v1h-1zM1033 441h1v1h-1zM1034 442h1v1h-1zM1035 443h1v1h-1zM1036 444h1v1h-1zM1037 445h1v1h-1zM1038 446h1v1h-1zM1039 447h1v1h-1zM1040 448h1v1h-1zM1041 449h1v1h-1zM1042 450h1v1h-1zM1043 451h1v1h-1zM1044 452h2v1h-2zM1046 453h1v1h-1zM1047 454h1v1h-1zM1048 455h2v1h-2zM1050 456h1v1h-1zM1051 457h1v1h-1zM1052 458h2v1h-2zM1054 459h1v1h-1zM1055 460h2v1h-2zM1057 461h2v1h-2zM1059 462h1v1h-1zM1060 463h1v1h-1zM1061 464h1v1h-1zM1062 465h1v1h-1zM1063 466h1v1h-1zM1064 467h1v1h-1zM1065 468h1v1h-1zM1066 469h1v1h-1zM1067 470h1v1h-1zM1068 471h1v1h-1zM1069 472h1v1h-1zM1070 473h1v1h-1zM1071 474h1v1h-1zM1072 475h1v1h-1zM1073 476h1v1h-1zM1074 477h1v1h-1zM1075 478h1v1h-1zM1076 479h2v1h-2zM1078 480h1v1h-1zM1079 481h1v1h-1zM1080 482h2v1h-2zM1082 483h1v1h-1zM1083 484h1v1h-1zM1084 485h1v1h-1zM1085 486h1v1h-1zM1086 487h1v1h-1zM1087 488h1v1h-1zM1088 489h2v1h-2zM1090 490h1v1h-1zM1091 491h1v1h-1zM1092 492h2v1h-2zM1094 493h1v1h-1zM1095 494h2v1h-2zM1097 495h52v1h-52zM1149 494h12v1h-12zM1161 493h19v1h-19zM1180 492h2v1h-2zM1182 491h2v1h-2zM1184 490h2v1h-2zM1186 489h1v1h-1zM1187 488h2v1h-2zM1189 487h1v1h-1zM1190 486h2v1h-2zM1192 485h2v1h-2zM1194 484h2v1h-2zM1196 483h2v1h-2zM1198 482h1v1h-1zM1199 481h2v1h-2zM1201 480h1v1h-1zM1202 479h2v1h-2zM1204 478h2v1h-2zM1206 477h3v1h-3zM1209 476h4v1h-4zM1213 475h4v1h-4zM1217 474h4v1h-4zM1221 473h11v1h-11zM1232 472h2v1h-2zM1234 471h3v1h-3zM1237 470h4v1h-4zM1241 469h8v1h-8zM1249 468h4v1h-4zM1253 467h2v1h-2z"/>
<rect x="2" y="308" width="1576" height="2" fill="#ff0000"/>
<rect x="2" y="363" width="1576" height="2" fill="#ff0000"/>
<rect x="2" y="419" width="1576" height="2" fill="#00ff00"/>
<rect x="2" y="479" width="1576" height="2" fill="#0000ff"/>
<rect x="2" y="541" width="1576" height="2" fill="#0000ff"/>
<line x1="3" x2="1578" y1="586.5" y2="586.5" stroke="#c0c0c0" stroke-dasharray="3 3"/>
<line x1="3" x2="1578" y1="623.5" y2="623.5" stroke="#c0c0c0" stroke-dasharray="3 3"/>
<path fill="#1e90ff" d="M2 601h2v1h-2zM4 602h7v1h-7zM11 603h1v1h-1zM12 604h2v1h-2zM14 605h2v1h-2zM16 604h3v1h-3zM18 603h1v1h-1zM19 605h1v3h-1zM20 608h1v4h-1zM21 612h1v3h-1zM22 615h1v2h-1zM23 617h1v1h-1zM24 618h2v1h-2zM26 619h1v1h-1zM27 620h1v1h-1zM28 621h2v1h-2zM30 622h1v1h-1zM31 623h1v2h-1zM32 625h1v1h-1zM33 626h1v2h-1zM34 628h1v1h-1zM35 629h1v1h-1zM36 630h2v1h-2zM38 631h5v1h-5zM43 632h1v1h-1zM44 633h2v1h-2zM46 634h1v1h-1zM47 635h1v1h-1zM48 636h1v2h-1zM49 638h1v1h-1zM50 639h5v1h-5zM55 640h2v1h-2zM57 641h2v1h-2zM59 639h1v2h-1zM60 638h1v1h-1zM61 636h1v2h-1zM62 635h1v1h-1zM63 633h1v2h-1zM64 631h1v2h-1zM65 629h1v2h-1zM66 625h1v4h-1zM67 620h1v5h-1zM68 616h1v4h-1zM69 611h1v5h-1zM70 609h1v2h-1zM70 608h2v1h-2zM72 609h4v1h-4zM76 608h2v1h-2zM78 607h1v1h-1zM79 608h1v2h-1zM80 610h1v1h-1zM81 611h1v1h-1zM81 612h2v1h-2zM82 613h1v1h-1zM83 609h1v3h-1zM84 605h1v4h-1zM85 602h1v3h-1zM86 600h1v2h-1zM87 599h1v1h-1zM88 597h1v2h-1zM89 596h1v1h-1zM90 595h1v1h-1zM91 594h1v1h-1zM92 592h1v2h-1zM93 591h1v1h-1zM94 590h3v1h-3zM97 589h4v1h-4zM101 588h2v1h-2zM103 589h1v2h-1zM104 591h1v1h-1zM105 592h1v2h-1zM106 594h5v1h-5zM111 595h1v1h-1zM112 596h2v1h-2zM114 597h1v2h-1zM115 599h1v2h-1zM116 601h1v2h-1zM117 603h1v2h-1zM118 605h1v2h-1zM119 607h1v1h-1zM120 608h1v2h-1zM121 610h1v1h-1zM122 611h1v1h-1zM123 612h2v1h-2zM125 613h2v1h-2zM127 611h1v2h-1zM128 610h1v1h-1zM129 608h1v2h-1zM130 607h3v1h-3zM133 606h2v1h-2zM135 605h2v1h-2zM137 604h1v1h-1zM138 603h1v1h-1zM139 602h2v1h-2zM141 601h1v1h-1zM142 600h1v1h-1zM143 599h2v1h-2zM145 598h1v1h-1zM146 597h1v1h-1zM147 598h2v1h-2zM149 599h4v1h-4zM153 598h2v1h-2zM155 599h1v1h-1zM156 600h1v2h-1zM157 602h1v1h-1zM158 603h3v1h-3zM161 602h2v1h-2zM163 603h1v1h-1zM164 604h1v1h-1zM165 605h1v1h-1zM166 606h2v1h-2zM168 607h5v1h-5zM173 606h6v1h-6zM179 607h1v1h-1zM180 608h1v1h-1zM181 609h1v1h-1zM182 610h1v1h-1zM183 609h1v1h-1zM184 608h1v1h-1zM185 607h1v1h-1zM186 606h1v1h-1zM187 605h2v1h-2zM189 604h1v1h-1zM190 603h1v1h-1zM191 604h2v1h-2zM193 605h4v1h-4zM197 604h3v1h-3zM200 605h3v1h-3zM203 604h2v1h-2zM205 603h1v1h-1zM206 602h3v1h-3zM209 601h3v1h-3zM212 600h2v1h-2zM214 599h2v1h-2zM216 598h2v1h-2zM218 597h2v1h-2zM220 598h5v1h-5zM225 597h2v1h-2zM227 598h2v1h-2zM229 599h4v1h-4zM233 598h2v1h-2zM234 599h1v1h-1zM235 600h1v2h-1zM236 602h1v3h-1zM237 605h1v2h-1zM238 607h1v2h-1zM239 609h1v2h-1zM240 611h1v2h-1zM241 613h1v2h-1zM242 615h1v1h-1zM243 614h2v1h-2zM245 613h1v1h-1zM246 612h1v1h-1zM247 611h1v1h-1zM248 610h1v1h-1zM249 609h1v1h-1zM250 608h1v1h-1zM251 606h1v2h-1zM252 604h1v2h-1zM253 602h1v2h-1zM254 601h2v1h-2zM256 600h2v1h-2zM258 599h5v1h-5zM263 600h1v1h-1zM264 601h1v2h-1zM265 603h1v1h-1zM266 604h3v1h-3zM269 603h4v1h-4zM273 602h2v1h-2zM275 603h1v1h-1zM276 604h1v1h-1zM277 605h1v1h-1zM278 606h2v1h-2zM280 605h2v1h-2zM282 604h1v1h-1zM283 603h2v1h-2zM285 602h1v1h-1zM286 601h2v1h-2zM288 602h7v1h-7zM295 603h1v1h-1zM296 604h2v1h-2zM298 605h1v1h-1zM299 604h1v1h-1zM300 603h1v1h-1zM301 602h2v1h-2zM302 601h1v1h-1zM303 603h1v2h-1zM304 605h1v3h-1zM305 608h1v2h-1zM306 611h1v1h-1zM306 610h2v1h-2zM307 609h1v1h-1zM308 607h1v2h-1zM309 605h1v2h-1zM310 604h2v1h-2zM312 603h2v1h-2zM314 602h5v1h-5zM319 603h2v1h-2zM321 604h2v1h-2zM323 605h1v1h-1zM324 606h1v2h-1zM325 608h1v1h-1zM326 609h1v1h-1zM327 608h1v1h-1zM328 607h1v1h-1zM329 606h1v1h-1zM330 605h1v1h-1zM331 606h1v2h-1zM332 608h1v1h-1zM333 609h1v2h-1zM334 611h1v1h-1zM335 612h2v1h-2zM337 613h12v1h-12zM349 612h3v1h-3zM352 613h3v1h-3zM355 614h1v1h-1zM356 615h1v2h-1zM357 617h2v1h-2zM358 618h1v1h-1zM359 615h1v2h-1zM360 613h1v2h-1zM361 611h1v2h-1zM362 610h1v1h-1zM362 609h2v1h-2zM364 610h3v1h-3zM367 611h1v1h-1zM368 612h1v2h-1zM369 614h1v1h-1zM370 615h1v1h-1zM371 616h1v2h-1zM372 618h1v1h-1zM373 619h1v2h-1zM374 621h1v1h-1zM375 622h1v1h-1zM376 623h2v1h-2zM378 624h1v1h-1zM379 625h1v1h-1zM380 626h3v1h-3zM382 627h1v1h-1zM383 622h1v4h-1zM384 618h1v4h-1zM385 614h1v4h-1zM386 612h1v2h-1zM387 611h2v1h-2zM389 610h1v1h-1zM390 609h1v1h-1zM391 610h1v1h-1zM392 611h2v1h-2zM394 612h2v1h-2zM396 613h4v1h-4zM400 612h2v1h-2zM402 611h7v1h-7zM409 610h3v1h-3zM412 611h3v1h-3zM415 612h1v1h-1zM416 613h2v1h-2zM418 614h1v1h-1zM419 615h1v1h-1zM420 616h2v1h-2zM422 617h1v1h-1zM423 616h1v1h-1zM424 615h1v1h-1zM425 614h1v1h-1zM426 613h2v1h-2zM428 612h2v1h-2zM430 611h6v1h-6zM436 612h3v1h-3zM439 611h1v1h-1zM440 610h1v1h-1zM441 609h1v1h-1zM442 608h1v1h-1zM443 609h1v1h-1zM444 610h1v1h-1zM445 611h1v1h-1zM446 612h2v1h-2zM448 613h5v1h-5zM453 612h3v1h-3zM456 613h4v1h-4zM460 614h3v1h-3zM463 615h1v1h-1zM464 616h2v1h-2zM466 617h2v1h-2zM468 618h3v1h-3zM471 619h1v1h-1zM472 620h2v1h-2zM474 621h1v1h-1zM475 620h1v1h-1zM476 619h1v1h-1zM477 618h1v1h-1zM478 617h2v1h-2zM480 618h3v1h-3zM483 617h1v1h-1zM484 616h1v1h-1zM485 615h1v1h-1zM486 614h5v1h-5zM491 615h1v1h-1zM492 616h3v1h-3zM494 617h1v1h-1zM495 614h1v2h-1zM496 611h1v3h-1zM497 609h1v2h-1zM498 607h1v1h-1zM498 608h3v1h-3zM501 609h2v1h-2zM503 610h1v1h-1zM504 611h1v2h-1zM505 613h1v1h-1zM506 614h2v1h-2zM508 615h4v1h-4zM512 614h2v1h-2zM514 613h1v1h-1zM515 614h1v2h-1zM516 616h1v1h-1zM517 617h1v2h-1zM518 619h1v1h-1zM519 620h1v1h-1zM520 621h1v2h-1zM521 623h1v1h-1zM522 624h1v1h-1zM523 625h1v1h-1zM524 626h2v1h-2zM526 627h2v1h-2zM528 628h7v1h-7zM535 629h2v1h-2zM537 630h2v1h-2zM539 631h2v1h-2zM541 632h3v1h-3zM544 633h4v1h-4zM548 634h4v1h-4zM552 635h3v1h-3zM555 633h1v2h-1zM556 632h1v1h-1zM557 630h1v2h-1zM558 628h1v2h-1zM559 625h1v3h-1zM560 623h1v2h-1zM561 620h1v3h-1zM562 618h1v1h-1zM562 619h2v1h-2zM564 620h2v1h-2zM566 621h1v1h-1zM567 622h1v2h-1zM568 624h1v2h-1zM569 626h1v2h-1zM570 628h1v1h-1zM571 626h1v2h-1zM572 624h1v2h-1zM573 622h1v2h-1zM574 621h1v1h-1zM575 619h1v2h-1zM576 618h1v1h-1zM577 616h1v2h-1zM578 615h2v1h-2zM580 616h3v1h-3zM583 615h2v1h-2zM585 614h1v1h-1zM586 613h3v1h-3zM589 612h2v1h-2zM591 613h1v1h-1zM592 614h1v2h-1zM593 616h1v1h-1zM594 617h2v1h-2zM596 618h9v1h-9zM605 617h2v1h-2zM607 618h1v1h-1zM608 619h2v1h-2zM610 620h1v1h-1zM611 621h1v1h-1zM612 622h3v1h-3zM614 623h1v1h-1zM615 619h1v3h-1zM616 615h1v4h-1zM617 612h1v3h-1zM618 610h1v1h-1zM618 611h2v1h-2zM620 612h2v1h-2zM622 613h1v1h-1zM623 611h1v2h-1zM624 610h1v1h-1zM625 608h1v2h-1zM626 607h2v1h-2zM628 608h3v1h-3zM631 609h2v1h-2zM633 610h2v1h-2zM635 611h2v1h-2zM637 612h7v1h-7zM644 613h3v1h-3zM647 614h1v1h-1zM648 615h2v1h-2zM650 616h3v1h-3zM653 615h2v1h-2zM655 616h1v1h-1zM656 617h1v1h-1zM657 618h2v1h-2zM658 619h1v1h-1zM659 616h1v2h-1zM660 614h1v2h-1zM661 612h1v2h-1zM662 610h1v2h-1zM663 609h1v1h-1zM664 608h1v1h-1zM665 607h1v1h-1zM666 606h5v1h-5zM671 605h1v1h-1zM672 603h1v2h-1zM673 602h1v1h-1zM674 601h1v1h-1zM675 602h1v1h-1zM676 603h2v1h-2zM678 604h1v1h-1zM679 603h1v1h-1zM680 602h1v1h-1zM681 601h1v1h-1zM682 600h3v1h-3zM685 599h2v1h-2zM687 600h1v1h-1zM688 601h1v2h-1zM689 603h1v1h-1zM690 604h1v1h-1zM691 605h1v2h-1zM692 607h1v1h-1zM693 608h1v2h-1zM694 610h2v1h-2zM696 609h2v1h-2zM698 608h3v1h-3zM701 607h2v1h-2zM703 608h1v1h-1zM704 609h2v1h-2zM706 610h2v1h-2zM708 609h2v1h-2zM710 608h2v1h-2zM712 609h3v1h-3zM715 608h2v1h-2zM717 607h1v1h-1zM718 606h2v1h-2zM720 607h5v1h-5zM725 606h2v1h-2zM726 605h1v1h-1zM727 603h1v2h-1zM728 601h1v2h-1zM729 599h1v2h-1zM730 597h1v2h-1zM731 596h1v1h-1zM732 595h1v1h-1zM733 594h1v1h-1zM734 593h1v1h-1zM735 592h2v1h-2zM737 591h1v1h-1zM738 590h1v1h-1zM739 589h2v1h-2zM741 588h1v1h-1zM742 587h2v1h-2zM744 586h2v1h-2zM746 585h2v1h-2zM748 586h3v1h-3zM751 587h1v2h-1zM752 589h1v2h-1zM753 591h1v2h-1zM754 593h1v1h-1zM755 594h1v1h-1zM756 595h1v2h-1zM757 597h1v1h-1zM758 598h1v1h-1zM759 599h1v1h-1zM760 600h1v1h-1zM761 601h1v1h-1zM762 602h2v1h-2zM764 603h3v1h-3zM767 602h2v1h-2zM769 601h1v1h-1zM770 600h5v1h-5zM775 601h1v2h-1zM776 603h1v2h-1zM777 605h1v2h-1zM778 607h6v1h-6zM784 606h2v1h-2zM786 605h3v1h-3zM789 604h2v1h-2zM790 605h1v1h-1zM791 606h1v2h-1zM792 608h1v2h-1zM793 610h1v2h-1zM794 612h1v1h-1zM794 613h2v1h-2zM796 614h7v1h-7zM803 612h1v2h-1zM804 610h1v2h-1zM805 608h1v2h-1zM806 606h1v1h-1zM806 607h2v1h-2zM808 608h2v1h-2zM810 609h1v1h-1zM811 608h2v1h-2zM813 607h1v1h-1zM814 606h2v1h-2zM816 605h2v1h-2zM818 604h2v1h-2zM820 605h3v1h-3zM823 606h1v2h-1zM824 608h1v2h-1zM825 610h1v2h-1zM826 612h1v2h-1zM827 614h2v1h-2zM829 615h2v1h-2zM831 616h1v1h-1zM832 617h2v1h-2zM834 618h1v1h-1zM835 617h1v1h-1zM836 615h1v2h-1zM837 614h1v1h-1zM838 613h1v1h-1zM839 614h2v1h-2zM841 615h3v1h-3zM844 616h3v1h-3zM847 615h1v1h-1zM848 613h1v2h-1zM849 612h1v1h-1zM850 611h2v1h-2zM852 612h3v1h-3zM855 611h1v1h-1zM856 609h1v2h-1zM857 608h1v1h-1zM858 606h1v2h-1zM859 604h1v2h-1zM860 601h1v3h-1zM861 599h1v2h-1zM862 598h1v1h-1zM862 597h2v1h-2zM864 598h7v1h-7zM871 597h2v1h-2zM873 596h2v1h-2zM874 595h1v1h-1zM875 597h1v2h-1zM876 599h1v3h-1zM877 602h1v2h-1zM878 604h1v1h-1zM878 605h2v1h-2zM880 606h3v1h-3zM883 607h1v2h-1zM884 609h1v1h-1zM885 610h1v2h-1zM886 612h1v1h-1zM887 613h1v2h-1zM888 615h1v1h-1zM889 616h1v2h-1zM890 618h5v1h-5zM894 617h1v1h-1zM895 613h1v4h-1zM896 610h1v3h-1zM897 606h1v4h-1zM898 605h1v1h-1zM898 604h2v1h-2zM900 603h2v1h-2zM902 602h1v1h-1zM903 601h1v1h-1zM904 599h1v2h-1zM905 598h1v1h-1zM906 597h1v1h-1zM907 598h1v1h-1zM908 599h1v2h-1zM909 601h1v1h-1zM910 602h6v1h-6zM916 603h7v1h-7zM923 604h1v1h-1zM924 605h2v1h-2zM926 606h2v1h-2zM928 607h3v1h-3zM931 606h2v1h-2zM933 605h1v1h-1zM934 604h1v1h-1zM935 605h2v1h-2zM937 606h3v1h-3zM940 605h2v1h-2zM942 604h2v1h-2zM944 603h2v1h-2zM946 602h1v1h-1zM947 603h2v1h-2zM949 604h2v1h-2zM951 605h1v1h-1zM952 606h2v1h-2zM954 607h1v1h-1zM955 608h1v1h-1zM956 609h1v1h-1zM957 610h1v1h-1zM958 611h1v1h-1zM959 612h2v1h-2zM961 613h8v1h-8zM969 612h2v1h-2zM971 613h1v1h-1zM972 614h1v2h-1zM973 616h1v1h-1zM974 617h1v1h-1zM975 618h1v1h-1zM976 619h1v2h-1zM977 621h1v1h-1zM978 622h1v1h-1zM979 623h1v1h-1zM980 624h1v1h-1zM981 625h1v1h-1zM982 626h3v1h-3zM985 625h3v1h-3zM988 626h4v1h-4zM992 627h7v1h-7zM999 626h2v1h-2zM1001 625h1v1h-1zM1002 624h1v1h-1zM1003 625h1v1h-1zM1004 626h3v1h-3zM1006 627h1v1h-1zM1007 624h1v2h-1zM1008 622h1v2h-1zM1009 620h1v2h-1zM1010 618h1v1h-1zM1010 619h3v1h-3zM1013 620h3v1h-3zM1016 621h3v1h-3zM1019 622h2v1h-2zM1021 623h2v1h-2zM1023 624h2v1h-2zM1025 625h6v1h-6zM1031 624h2v1h-2zM1033 623h1v1h-1zM1034 622h1v1h-1zM1035 623h2v1h-2zM1037 624h2v1h-2zM1038 623h1v1h-1zM1039 621h1v2h-1zM1040 619h1v2h-1zM1041 617h1v2h-1zM1042 615h1v2h-1zM1043 614h2v1h-2zM1045 613h1v1h-1zM1046 612h3v1h-3zM1049 611h2v1h-2zM1051 610h2v1h-2zM1053 609h1v1h-1zM1054 608h3v1h-3zM1057 607h2v1h-2zM1059 608h1v1h-1zM1060 609h1v1h-1zM1061 610h1v1h-1zM1062 611h1v1h-1zM1063 612h1v2h-1zM1064 614h1v2h-1zM1065 616h1v2h-1zM1066 618h1v1h-1zM1067 619h2v1h-2zM1069 620h3v1h-3zM1072 619h2v1h-2zM1074 618h1v1h-1zM1075 617h2v1h-2zM1077 616h1v1h-1zM1078 615h1v1h-1zM1079 616h1v2h-1zM1080 618h1v2h-1zM1081 620h1v2h-1zM1082 622h5v1h-5zM1087 621h1v1h-1zM1088 619h1v2h-1zM1089 618h1v1h-1zM1090 617h1v1h-1zM1091 615h1v2h-1zM1092 613h1v2h-1zM1093 611h1v2h-1zM1094 609h1v1h-1zM1094 610h2v1h-2zM1096 611h1v1h-1zM1097 612h1v1h-1zM1098 613h1v1h-1zM1099 611h1v2h-1zM1100 609h1v2h-1zM1101 607h1v2h-1zM1102 606h1v1h-1zM1103 604h1v2h-1zM1104 602h1v2h-1zM1105 600h1v2h-1zM1106 599h1v1h-1zM1107 600h1v1h-1zM1108 601h2v1h-2zM1110 602h1v1h-1zM1111 603h1v1h-1zM1112 604h2v1h-2zM1114 605h2v1h-2zM1116 604h2v1h-2zM1118 603h3v1h-3zM1121 602h3v1h-3zM1124 601h2v1h-2zM1126 600h2v1h-2zM1128 601h3v1h-3zM1131 602h1v1h-1zM1132 603h1v1h-1zM1133 604h1v1h-1zM1134 605h1v1h-1zM1135 604h2v1h-2zM1137 603h1v1h-1zM1138 602h1v1h-1zM1139 603h1v2h-1zM1140 605h1v2h-1zM1141 607h1v2h-1zM1142 609h2v1h-2zM1144 610h4v1h-4zM1148 609h2v1h-2zM1150 608h1v1h-1zM1151 607h1v1h-1zM1152 606h1v1h-1zM1153 605h1v1h-1zM1154 604h1v1h-1zM1155 605h2v1h-2zM1157 606h2v1h-2zM1159 605h1v1h-1zM1160 604h1v1h-1zM1161 603h1v1h-1zM1162 602h1v1h-1zM1163 603h2v1h-2zM1165 604h3v1h-3zM1168 603h2v1h-2zM1170 602h2v1h-2zM1172 601h2v1h-2zM1174 600h1v1h-1zM1175 598h1v2h-1zM1176 596h1v2h-1zM1177 594h1v2h-1zM1178 593h1v1h-1zM1179 592h1v1h-1zM1180 591h1v1h-1zM1181 590h1v1h-1zM1182 589h3v1h-3zM1185 588h2v1h-2zM1187 587h2v1h-2zM1189 586h1v1h-1zM1190 585h1v1h-1zM1191 586h1v2h-1zM1192 588h1v1h-1zM1193 589h1v2h-1zM1194 591h1v1h-1zM1195 592h2v1h-2zM1197 593h3v1h-3zM1200 594h3v1h-3zM1202 595h1v1h-1zM1203 596h1v2h-1zM1204 598h1v3h-1zM1205 601h1v2h-1zM1206 603h1v2h-1zM1207 605h1v1h-1zM1208 606h1v1h-1zM1209 607h1v1h-1zM1210 608h6v1h-6zM1216 607h2v1h-2zM1218 606h3v1h-3zM1221 605h2v1h-2zM1223 606h1v1h-1zM1224 607h1v1h-1zM1225 608h1v1h-1zM1226 609h1v1h-1zM1227 608h1v1h-1zM1228 607h1v1h-1zM1229 606h1v1h-1zM1230 604h1v2h-1zM1231 602h1v2h-1zM1232 600h1v2h-1zM1233 598h1v2h-1zM1234 597h1v1h-1zM1234 596h2v1h-2zM1236 597h3v1h-3zM1239 598h1v1h-1zM1240 599h1v1h-1zM1241 600h1v1h-1zM1242 601h2v1h-2zM1244 600h2v1h-2zM1246 599h5v1h-5zM1251 600h2v1h-2zM1253 601h2v1h-2z"/>
<path fill="#c0c0c0" d="M2 674h1v13h-1zM6 675h1v12h-1zM10 677h1v10h-1zM14 678h1v9h-1zM18 679h1v8h-1zM22 683h1v4h-1zM26 687h1v1h-1zM30 687h1v6h-1zM34 687h1v12h-1zM38 687h1v18h-1zM42 687h1v23h-1zM46 687h1v28h-1zM50 687h1v38h-1zM54 687h1v46h-1zM58 687h1v54h-1zM62 687h1v58h-1zM66 687h1v59h-1zM70 687h1v52h-1zM74 687h1v46h-1zM78 687h1v40h-1zM82 687h1v39h-1zM86 687h1v30h-1zM90 687h1v19h-1zM94 687h1v5h-1zM98 679h1v8h-1zM102 669h1v18h-1zM106 664h1v23h-1zM110 661h1v26h-1zM114 660h1v27h-1zM118 665h1v22h-1zM122 674h1v13h-1zM126 682h1v5h-1zM130 685h1v2h-1zM134 686h1v1h-1zM138 685h1v2h-1zM142 682h1v5h-1zM146 678h1v9h-1zM150 675h1v12h-1zM154 673h1v14h-1zM158 674h1v13h-1zM162 675h1v12h-1zM166 678h1v9h-1zM170 681h1v6h-1zM174 683h1v4h-1zM178 684h1v3h-1zM182 687h1v2h-1zM186 687h1v3h-1zM190 687h1v1h-1zM194 687h1v2h-1zM198 687h1v2h-1zM202 687h1v1h-1zM206 686h1v1h-1zM210 685h1v2h-1zM214 683h1v4h-1zM218 680h1v7h-1zM222 679h1v8h-1zM226 677h1v10h-1zM230 677h1v10h-1zM234 676h1v11h-1zM238 679h1v8h-1zM242 685h1v2h-1zM246 687h1v2h-1zM250 687h1v4h-1zM254 687h1v2h-1zM258 685h1v2h-1zM262 683h1v4h-1zM266 683h1v4h-1zM270 683h1v4h-1zM274 683h1v4h-1zM278 684h1v3h-1zM282 684h1v3h-1zM286 684h1v3h-1zM290 683h1v4h-1zM294 683h1v4h-1zM298 684h1v3h-1zM302 683h1v4h-1zM306 686h1v1h-1zM310 686h1v1h-1zM314 685h1v2h-1zM318 684h1v3h-1zM322 685h1v2h-1zM326 686h1v1h-1zM330 687h1v1h-1zM334 687h1v4h-1zM338 687h1v7h-1zM342 687h1v9h-1zM346 687h1v11h-1zM350 687h1v12h-1zM354 687h1v13h-1zM358 687h1v16h-1zM362 687h1v15h-1zM366 687h1v15h-1zM370 687h1v17h-1zM374 687h1v21h-1zM378 687h1v26h-1zM382 687h1v33h-1zM386 687h1v32h-1zM390 687h1v29h-1zM394 687h1v29h-1zM398 687h1v29h-1zM402 687h1v28h-1zM406 687h1v26h-1zM410 687h1v25h-1zM414 687h1v23h-1zM418 687h1v24h-1zM422 687h1v26h-1zM426 687h1v25h-1zM430 687h1v24h-1zM434 687h1v23h-1zM438 687h1v22h-1zM442 687h1v20h-1zM446 687h1v20h-1zM450 687h1v20h-1zM454 687h1v19h-1zM458 687h1v19h-1zM462 687h1v19h-1zM466 687h1v20h-1zM470 687h1v21h-1zM474 687h1v23h-1zM478 687h1v23h-1zM482 687h1v23h-1zM486 687h1v22h-1zM490 687h1v21h-1zM494 687h1v21h-1zM498 687h1v19h-1zM502 687h1v17h-1zM506 687h1v18h-1zM510 687h1v18h-1zM514 687h1v18h-1zM518 687h1v19h-1zM522 687h1v23h-1zM526 687h1v27h-1zM530 687h1v31h-1zM534 687h1v34h-1zM538 687h1v36h-1zM542 687h1v40h-1zM546 687h1v43h-1zM550 687h1v46h-1zM554 687h1v48h-1zM558 687h1v48h-1zM562 687h1v45h-1zM566 687h1v44h-1zM570 687h1v47h-1zM574 687h1v47h-1zM578 687h1v44h-1zM582 687h1v42h-1zM586 687h1v39h-1zM590 687h1v36h-1zM594 687h1v36h-1zM598 687h1v35h-1zM602 687h1v35h-1zM606 687h1v34h-1zM610 687h1v35h-1zM614 687h1v36h-1zM618 687h1v33h-1zM622 687h1v31h-1zM626 687h1v28h-1zM630 687h1v25h-1zM634 687h1v23h-1zM638 687h1v23h-1zM642 687h1v22h-1zM646 687h1v21h-1zM650 687h1v22h-1zM654 687h1v22h-1zM658 687h1v24h-1zM662 687h1v22h-1zM666 687h1v19h-1zM670 687h1v17h-1zM674 687h1v13h-1zM678 687h1v11h-1zM682 687h1v7h-1zM686 687h1v4h-1zM690 687h1v3h-1zM694 687h1v5h-1zM698 687h1v5h-1zM702 687h1v6h-1zM706 687h1v7h-1zM710 687h1v7h-1zM714 687h1v8h-1zM718 687h1v7h-1zM722 687h1v7h-1zM726 687h1v6h-1zM730 687h1v3h-1zM734 685h1v2h-1zM738 680h1v7h-1zM742 675h1v12h-1zM746 670h1v17h-1zM750 667h1v20h-1zM754 666h1v21h-1zM758 667h1v20h-1zM762 669h1v18h-1zM766 672h1v15h-1zM770 673h1v14h-1zM774 673h1v14h-1zM778 676h1v11h-1zM782 679h1v8h-1zM786 680h1v7h-1zM790 681h1v6h-1zM794 685h1v2h-1zM798 687h1v2h-1zM802 687h1v5h-1zM806 687h1v5h-1zM810 687h1v5h-1zM814 687h1v5h-1zM818 687h1v4h-1zM822 687h1v4h-1zM826 687h1v6h-1zM830 687h1v9h-1zM834 687h1v12h-1zM838 687h1v13h-1zM842 687h1v14h-1zM846 687h1v16h-1zM850 687h1v15h-1zM854 687h1v15h-1zM858 687h1v14h-1zM862 687h1v9h-1zM866 687h1v6h-1zM870 687h1v3h-1zM874 685h1v2h-1zM878 686h1v1h-1zM882 687h1v1h-1zM886 687h1v3h-1zM890 687h1v9h-1zM894 687h1v13h-1zM898 687h1v11h-1zM902 687h1v8h-1zM906 687h1v3h-1zM910 687h1v2h-1zM914 687h1v1h-1zM918 686h1v1h-1zM922 686h1v1h-1zM926 686h1v1h-1zM930 687h1v2h-1zM934 687h1v1h-1zM938 687h1v2h-1zM942 687h1v2h-1zM946 687h1v1h-1zM950 686h1v1h-1zM954 687h1v1h-1zM958 687h1v3h-1zM962 687h1v6h-1zM966 687h1v8h-1zM970 687h1v9h-1zM974 687h1v11h-1zM978 687h1v15h-1zM982 687h1v21h-1zM986 687h1v25h-1zM990 687h1v28h-1zM994 687h1v30h-1zM998 687h1v32h-1zM1002 687h1v33h-1zM1006 687h1v34h-1zM1010 687h1v33h-1zM1014 687h1v33h-1zM1018 687h1v32h-1zM1022 687h1v32h-1zM1026 687h1v33h-1zM1030 687h1v33h-1zM1034 687h1v33h-1zM1038 687h1v32h-1zM1042 687h1v30h-1zM1046 687h1v28h-1zM1050 687h1v25h-1zM1054 687h1v22h-1zM1058 687h1v19h-1zM1062 687h1v18h-1zM1066 687h1v19h-1zM1070 687h1v20h-1zM1074 687h1v20h-1zM1078 687h1v20h-1zM1082 687h1v21h-1zM1086 687h1v23h-1zM1090 687h1v22h-1zM1094 687h1v20h-1zM1098 687h1v19h-1zM1102 687h1v17h-1zM1106 687h1v13h-1zM1110 687h1v10h-1zM1114 687h1v9h-1zM1118 687h1v7h-1zM1122 687h1v6h-1zM1126 687h1v4h-1zM1130 687h1v2h-1zM1134 687h1v2h-1zM1138 687h1v1h-1zM1142 687h1v2h-1zM1146 687h1v3h-1zM1150 687h1v4h-1zM1154 687h1v3h-1zM1158 687h1v3h-1zM1162 687h1v2h-1zM1166 687h1v2h-1zM1170 687h1v1h-1zM1174 686h1v1h-1zM1178 683h1v4h-1zM1182 679h1v8h-1zM1186 676h1v11h-1zM1190 672h1v15h-1zM1194 671h1v16h-1zM1198 670h1v17h-1zM1202 670h1v17h-1zM1206 672h1v15h-1zM1210 676h1v11h-1zM1214 679h1v8h-1zM1218 680h1v7h-1zM1222 682h1v5h-1zM1226 684h1v3h-1zM1230 684h1v3h-1zM1234 682h1v5h-1zM1238 681h1v6h-1zM1242 681h1v6h-1zM1246 680h1v7h-1zM1250 680h1v7h-1zM1254 680h1v7h-1z"/>
<path fill="#ff0000" d="M2 675h3v1h-3zM8 674h3v1h-3zM14 675h3v1h-3zM20 676h3v1h-3zM26 678h1v1h-1zM27 679h2v1h-2zM32 682h2v1h-2zM34 683h1v1h-1zM38 686h1v1h-1zM39 687h1v1h-1zM40 688h1v1h-1zM44 692h1v1h-1zM45 693h1v1h-1zM46 694h1v1h-1zM49 698h1v1h-1zM50 699h1v1h-1zM51 700h1v1h-1zM53 704h1v1h-1zM54 705h1v1h-1zM55 706h1v1h-1zM57 710h1v1h-1zM58 711h1v1h-1zM59 712h1v1h-1zM61 716h1v1h-1zM62 717h1v1h-1zM63 718h1v1h-1zM65 722h1v1h-1zM66 723h1v1h-1zM67 724h1v1h-1zM70 728h1v1h-1zM71 729h1v1h-1zM72 730h1v1h-1zM76 732h1v1h-1zM77 733h2v1h-2zM82 734h3v1h-3zM88 732h1v1h-1zM89 731h1v1h-1zM90 730h1v1h-1zM93 726h1v1h-1zM94 725h1v1h-1zM95 724h1v1h-1zM97 719h1v2h-1zM98 718h1v1h-1zM100 713h1v2h-1zM101 712h1v1h-1zM103 707h1v2h-1zM104 706h1v1h-1zM106 701h1v2h-1zM107 700h1v1h-1zM109 695h1v2h-1zM110 694h1v1h-1zM112 689h1v2h-1zM113 688h1v1h-1zM115 683h1v2h-1zM116 682h1v1h-1zM119 678h1v1h-1zM120 676h1v2h-1zM124 673h2v1h-2zM126 672h1v1h-1zM130 671h2v1h-2zM132 672h1v1h-1zM136 673h3v1h-3zM142 676h2v1h-2zM144 677h1v1h-1zM148 678h1v1h-1zM149 679h2v1h-2zM154 680h3v1h-3zM160 680h1v1h-1zM161 679h2v1h-2zM166 678h3v1h-3zM172 678h3v1h-3zM178 678h2v1h-2zM180 679h1v1h-1zM184 680h3v1h-3zM190 682h1v1h-1zM191 683h2v1h-2zM196 685h3v1h-3zM202 686h2v1h-2zM204 687h1v1h-1zM208 687h3v1h-3zM214 687h3v1h-3zM220 686h1v1h-1zM221 685h2v1h-2zM226 684h2v1h-2zM228 683h1v1h-1zM232 682h1v1h-1zM233 681h2v1h-2zM238 680h3v1h-3zM244 680h3v1h-3zM250 681h2v1h-2zM252 682h1v1h-1zM256 683h3v1h-3zM262 683h2v1h-2zM264 684h1v1h-1zM268 685h3v1h-3zM274 685h3v1h-3zM280 685h3v1h-3zM286 684h3v1h-3zM292 684h1v1h-1zM293 683h2v1h-2zM298 684h3v1h-3zM304 684h3v1h-3zM310 684h3v1h-3zM316 684h3v1h-3zM322 684h2v1h-2zM324 685h1v1h-1zM328 685h3v1h-3zM334 686h2v1h-2zM336 687h1v1h-1zM340 688h3v1h-3zM346 689h2v1h-2zM348 690h1v1h-1zM352 691h1v1h-1zM353 692h2v1h-2zM358 694h1v1h-1zM359 695h2v1h-2zM364 697h3v1h-3zM370 699h2v1h-2zM372 700h1v1h-1zM376 701h1v1h-1zM377 702h2v1h-2zM382 705h1v1h-1zM383 706h2v1h-2zM388 708h1v1h-1zM389 709h2v1h-2zM394 710h1v1h-1zM395 711h2v1h-2zM400 713h3v1h-3zM406 714h2v1h-2zM408 715h1v1h-1zM412 715h1v1h-1zM413 714h2v1h-2zM418 713h3v1h-3zM424 713h1v1h-1zM425 712h2v1h-2zM430 711h3v1h-3zM436 711h1v1h-1zM437 710h2v1h-2zM442 709h3v1h-3zM448 709h1v1h-1zM449 708h2v1h-2zM454 708h3v1h-3zM460 707h3v1h-3zM466 706h3v1h-3zM472 706h3v1h-3zM478 706h2v1h-2zM480 707h1v1h-1zM484 707h3v1h-3zM490 707h2v1h-2zM492 708h1v1h-1zM496 708h3v1h-3zM502 707h3v1h-3zM508 707h1v1h-1zM509 706h2v1h-2zM514 706h3v1h-3zM520 705h3v1h-3zM526 706h2v1h-2zM528 707h1v1h-1zM532 708h1v1h-1zM533 709h2v1h-2zM538 711h1v1h-1zM539 712h2v1h-2zM544 715h2v1h-2zM546 716h1v1h-1zM550 719h1v1h-1zM551 720h1v1h-1zM552 721h1v1h-1zM556 724h2v1h-2zM558 725h1v1h-1zM562 727h1v1h-1zM563 728h2v1h-2zM568 730h3v1h-3zM574 731h2v1h-2zM576 732h1v1h-1zM580 732h3v1h-3zM586 731h3v1h-3zM592 729h2v1h-2zM594 728h1v1h-1zM598 727h3v1h-3zM604 726h1v1h-1zM605 725h2v1h-2zM610 723h3v1h-3zM616 722h2v1h-2zM618 721h1v1h-1zM622 721h3v1h-3zM628 720h1v1h-1zM629 719h2v1h-2zM634 717h3v1h-3zM640 715h2v1h-2zM642 714h1v1h-1zM646 713h2v1h-2zM648 712h1v1h-1zM652 711h1v1h-1zM653 710h2v1h-2zM658 709h3v1h-3zM664 709h1v1h-1zM665 708h2v1h-2zM670 707h3v1h-3zM676 706h1v1h-1zM677 705h2v1h-2zM682 704h2v1h-2zM684 703h1v1h-1zM688 701h1v1h-1zM689 700h1v1h-1zM690 699h1v1h-1zM694 697h2v1h-2zM696 696h1v1h-1zM700 695h1v1h-1zM701 694h2v1h-2zM706 693h3v1h-3zM712 692h3v1h-3zM718 692h3v1h-3zM724 692h3v1h-3zM730 692h3v1h-3zM736 691h1v1h-1zM737 690h2v1h-2zM742 688h2v1h-2zM744 687h1v1h-1zM748 685h1v1h-1zM749 684h1v1h-1zM750 683h1v1h-1zM754 680h1v1h-1zM755 679h2v1h-2zM760 676h1v1h-1zM761 675h1v1h-1zM762 674h1v1h-1zM766 672h3v1h-3zM772 671h1v1h-1zM773 670h2v1h-2zM778 670h2v1h-2zM780 671h1v1h-1zM784 672h1v1h-1zM785 673h2v1h-2zM790 674h1v1h-1zM791 675h2v1h-2zM796 678h2v1h-2zM798 679h1v1h-1zM802 681h1v1h-1zM803 682h2v1h-2zM808 684h1v1h-1zM809 685h2v1h-2zM814 686h1v1h-1zM815 687h2v1h-2zM820 689h3v1h-3zM826 690h2v1h-2zM828 691h1v1h-1zM832 692h3v1h-3zM838 693h2v1h-2zM840 694h1v1h-1zM844 695h3v1h-3zM850 696h1v1h-1zM851 697h2v1h-2zM856 699h3v1h-3zM862 699h3v1h-3zM868 699h1v1h-1zM869 698h2v1h-2zM874 696h3v1h-3zM880 694h2v1h-2zM882 693h1v1h-1zM886 692h3v1h-3zM892 691h3v1h-3zM898 691h3v1h-3zM904 691h3v1h-3zM910 691h2v1h-2zM912 692h1v1h-1zM916 692h3v1h-3zM922 691h3v1h-3zM928 690h1v1h-1zM929 689h2v1h-2zM934 688h3v1h-3zM940 687h3v1h-3zM946 687h3v1h-3zM952 687h3v1h-3zM958 687h2v1h-2zM960 688h1v1h-1zM964 689h3v1h-3zM970 689h2v1h-2zM972 690h1v1h-1zM976 691h1v1h-1zM977 692h2v1h-2zM982 694h1v1h-1zM983 695h1v1h-1zM984 696h1v1h-1zM988 699h2v1h-2zM990 700h1v1h-1zM994 703h1v1h-1zM995 704h1v1h-1zM996 705h1v1h-1zM1000 708h2v1h-2zM1002 709h1v1h-1zM1006 711h1v1h-1zM1007 712h1v1h-1zM1008 713h1v1h-1zM1012 715h1v1h-1zM1013 716h2v1h-2zM1018 717h2v1h-2zM1020 718h1v1h-1zM1024 719h3v1h-3zM1030 719h3v1h-3zM1036 719h3v1h-3zM1042 718h3v1h-3zM1048 718h1v1h-1zM1049 717h2v1h-2zM1054 716h2v1h-2zM1056 715h1v1h-1zM1060 714h1v1h-1zM1061 713h2v1h-2zM1066 711h3v1h-3zM1072 709h2v1h-2zM1074 708h1v1h-1zM1078 707h3v1h-3zM1084 706h3v1h-3zM1090 706h3v1h-3zM1096 707h3v1h-3zM1102 706h3v1h-3zM1108 705h2v1h-2zM1110 704h1v1h-1zM1114 703h3v1h-3zM1120 701h2v1h-2zM1122 700h1v1h-1zM1126 698h2v1h-2zM1128 697h1v1h-1zM1132 695h2v1h-2zM1134 694h1v1h-1zM1138 692h3v1h-3zM1144 691h1v1h-1zM1145 690h2v1h-2zM1150 690h3v1h-3zM1156 689h3v1h-3zM1162 689h3v1h-3zM1168 689h3v1h-3zM1174 688h3v1h-3zM1180 688h1v1h-1zM1181 687h2v1h-2zM1186 685h2v1h-2zM1188 684h1v1h-1zM1192 682h2v1h-2zM1194 681h1v1h-1zM1198 679h2v1h-2zM1200 678h1v1h-1zM1204 677h1v1h-1zM1205 676h2v1h-2zM1210 674h3v1h-3zM1216 674h3v1h-3zM1222 675h2v1h-2zM1224 676h1v1h-1zM1228 677h3v1h-3zM1234 679h2v1h-2zM1236 680h1v1h-1zM1240 681h3v1h-3zM1246 681h2v1h-2zM1248 682h1v1h-1zM1252 682h3v1h-3z"/>
<rect x="1" y="27" width="1578" height="1" fill="#000"/>
<rect x="1" y="27" width="1" height="724" fill="#000"/>
<rect x="1578" y="27" width="1" height="724" fill="#000"/>
<rect x="1" y="554" width="1578" height="1" fill="#000"/>
<rect x="1" y="555" width="1578" height="1" fill="#fff"/>
<rect x="1" y="555" width="1" height="1" fill="#fff"/>
<rect x="1" y="556" width="1578" height="1" fill="#000"/>
<rect x="1" y="652" width="1578" height="1" fill="#000"/>
<rect x="1" y="653" width="1578" height="1" fill="#fff"/>
<rect x="1" y="654" width="1578" height="1" fill="#000"/>
<rect x="1" y="750" width="1578" height="1" fill="#000"/>
<rect x="1578" y="555" width="1" height="1" fill="#000"/>
<rect x="1578" y="653" width="1" height="1" fill="#000"/>
<rect x="1" y="361" width="6" height="6" fill="#ff0000"/>
<rect x="3" y="363" width="2" height="2" fill="#fff"/>
<rect x="1572" y="361" width="6" height="6" fill="#ff0000"/>
<rect x="1574" y="363" width="2" height="2" fill="#fff"/>
<rect x="1" y="417" width="6" height="6" fill="#00ff00"/>
<rect x="3" y="419" width="2" height="2" fill="#fff"/>
<rect x="1572" y="417" width="6" height="6" fill="#00ff00"/>
<rect x="1574" y="419" width="2" height="2" fill="#fff"/>
<rect x="1" y="477" width="6" height="6" fill="#0000ff"/>
<rect x="3" y="479" width="2" height="2" fill="#fff"/>
<rect x="1572" y="477" width="6" height="6" fill="#0000ff"/>
<rect x="1574" y="479" width="2" height="2" fill="#fff"/>
<rect x="1" y="539" width="6" height="6" fill="#0000ff"/>
<rect x="3" y="541" width="2" height="2" fill="#fff"/>
<rect x="1572" y="539" width="6" height="6" fill="#0000ff"/>
<rect x="1574" y="541" width="2" height="2" fill="#fff"/>
<rect x="1579" y="56" width="2" height="1" fill="#000"/>
<rect x="1579" y="89" width="2" height="1" fill="#000"/>
<rect x="1579" y="122" width="2" height="1" fill="#000"/>
<rect x="1579" y="155" width="2" height="1" fill="#000"/>
<rect x="1579" y="188" width="2" height="1" fill="#000"/>
<rect x="1579" y="221" width="2" height="1" fill="#000"/>
<rect x="1579" y="254" width="2" height="1" fill="#000"/>
<rect x="1579" y="287" width="2" height="1" fill="#000"/>
<rect x="1579" y="320" width="2" height="1" fill="#000"/>
<rect x="1579" y="353" width="2" height="1" fill="#000"/>
<rect x="1579" y="386" width="2" height="1" fill="#000"/>
<rect x="1579" y="419" width="2" height="1" fill="#000"/>
<rect x="1579" y="452" width="2" height="1" fill="#000"/>
<rect x="1579" y="485" width="2" height="1" fill="#000"/>
<rect x="1579" y="518" width="2" height="1" fill="#000"/>
<rect x="1579" y="551" width="2" height="1" fill="#000"/>
<rect x="1579" y="558" width="2" height="1" fill="#000"/>
<rect x="1579" y="586" width="2" height="1" fill="#000"/>
<rect x="1579" y="623" width="2" height="1" fill="#000"/>
<rect x="1579" y="651" width="2" height="1" fill="#000"/>
<rect x="1579" y="687" width="2" height="1" fill="#000"/>
<rect x="2" y="751" width="1" height="3" fill="#000"/>
<rect x="66" y="751" width="1" height="3" fill="#000"/>
<rect x="130" y="751" width="1" height="3" fill="#000"/>
<rect x="194" y="751" width="1" height="3" fill="#000"/>
<rect x="258" y="751" width="1" height="3" fill="#000"/>
<rect x="322" y="751" width="1" height="3" fill="#000"/>
<rect x="386" y="751" width="1" height="3" fill="#000"/>
<rect x="450" y="751" width="1" height="3" fill="#000"/>
<rect x="514" y="751" width="1" height="3" fill="#000"/>
<rect x="578" y="751" width="1" height="3" fill="#000"/>
<rect x="642" y="751" width="1" height="3" fill="#000"/>
<rect x="706" y="751" width="1" height="3" fill="#000"/>
<rect x="770" y="751" width="1" height="3" fill="#000"/>
<rect x="834" y="751" width="1" height="3" fill="#000"/>
<rect x="898" y="751" width="1" height="3" fill="#000"/>
<rect x="962" y="751" width="1" height="3" fill="#000"/>
<rect x="1026" y="751" width="1" height="3" fill="#000"/>
<rect x="1090" y="751" width="1" height="3" fill="#000"/>
<rect x="1154" y="751" width="1" height="3" fill="#000"/>
<rect x="1218" y="751" width="1" height="3" fill="#000"/>
<rect x="1257" y="28" width="9" height="1" fill="#c0c0c0"/>
<rect x="1258" y="29" width="7" height="1" fill="#c0c0c0"/>
<rect x="1259" y="30" width="5" height="1" fill="#c0c0c0"/>
<rect x="1260" y="31" width="3" height="1" fill="#c0c0c0"/>
<rect x="1261" y="32" width="1" height="1" fill="#c0c0c0"/>
<rect x="1580" y="303" width="40" height="11" fill="#ff0000"/>
<rect x="1580" y="358" width="40" height="11" fill="#ff0000"/>
<rect x="1580" y="414" width="40" height="11" fill="#00ff00"/>
<rect x="1580" y="451" width="40" height="11" fill="#000"/>
<rect x="1580" y="474" width="40" height="11" fill="#0000ff"/>
<rect x="1580" y="536" width="40" height="11" fill="#0000ff"/>
<rect x="0" y="771" width="1620" height="2" fill="#f0f0f0"/>
<rect x="0" y="774" width="1620" height="18" fill="#f0f0f0"/>
<rect x="0" y="773" width="108" height="1" fill="#000"/>
<rect x="206" y="773" width="1414" height="1" fill="#000"/>
<rect x="108" y="773" width="98" height="18" fill="#fff"/>
<rect x="107" y="773" width="1" height="19" fill="#000"/>
<rect x="206" y="773" width="1" height="19" fill="#000"/>
<rect x="107" y="791" width="100" height="1" fill="#000"/>
<rect x="106" y="774" width="1" height="18" fill="#fff"/>
<rect x="207" y="774" width="1" height="18" fill="#fff"/>
<rect x="0" y="792" width="1620" height="2" fill="#fbfbfb"/>
<rect x="0" y="794" width="1620" height="3" fill="#f0f0f0"/>
<rect x="0" y="797" width="1620" height="1" fill="#a0a0a0"/>
<rect x="0" y="798" width="1620" height="2" fill="#fcfcfc"/>
<rect x="311" y="776" width="1" height="14" fill="#6a6a6a"/>
<rect x="415" y="776" width="1" height="14" fill="#6a6a6a"/>
<rect x="519" y="776" width="1" height="14" fill="#6a6a6a"/>
<rect x="623" y="776" width="1" height="14" fill="#6a6a6a"/>
<rect x="715" y="776" width="1" height="14" fill="#6a6a6a"/>
<rect x="819" y="776" width="1" height="14" fill="#6a6a6a"/>
<rect x="891" y="776" width="1" height="14" fill="#6a6a6a"/>
<rect x="971" y="776" width="1" height="14" fill="#6a6a6a"/>
<rect x="1051" y="776" width="1" height="14" fill="#6a6a6a"/>
<rect x="1131" y="776" width="1" height="14" fill="#6a6a6a"/>
<rect x="1208" y="776" width="1" height="14" fill="#6a6a6a"/>
<rect x="1307" y="776" width="1" height="14" fill="#6a6a6a"/>
<rect x="1391" y="776" width="1" height="14" fill="#6a6a6a"/>
<rect x="1471" y="776" width="1" height="14" fill="#6a6a6a"/>
<rect x="1571" y="776" width="1" height="14" fill="#6a6a6a"/>
<path shape-rendering="auto" d="M1593.7 782l3.6 -3.4v6.8z" fill="#a0a0a0"/><path shape-rendering="auto" d="M1616.6 782l-3.6 -3.4v6.8z" fill="#000"/>
</svg>
<span class="t" style="left:16.9px;top:30px;font-size:10px;letter-spacing:-0.03px">USDCHF,Daily</span>
<span class="t" style="left:87.5px;top:30px;font-size:10px;letter-spacing:-0.36px">0.89677 0.89677 0.89508 0.89564</span>
<span class="t" style="left:5.5px;top:560px;font-size:10px;letter-spacing:-0.31px">RSI(14) 53.7393</span>
<span class="t" style="left:5.5px;top:658px;font-size:10px;letter-spacing:-0.31px">MACD(12,26,9) 0.001237 0.000975</span>
<span class="t" style="left:1583.6px;top:51px;font-size:10px;letter-spacing:-0.39px">0.98900</span>
<span class="t" style="left:1583.6px;top:84px;font-size:10px;letter-spacing:-0.39px">0.98140</span>
<span class="t" style="left:1583.6px;top:117px;font-size:10px;letter-spacing:-0.39px">0.97360</span>
<span class="t" style="left:1583.6px;top:150px;font-size:10px;letter-spacing:-0.39px">0.96600</span>
<span class="t" style="left:1583.6px;top:183px;font-size:10px;letter-spacing:-0.39px">0.95820</span>
<span class="t" style="left:1583.6px;top:216px;font-size:10px;letter-spacing:-0.39px">0.95040</span>
<span class="t" style="left:1583.6px;top:249px;font-size:10px;letter-spacing:-0.39px">0.94280</span>
<span class="t" style="left:1583.6px;top:282px;font-size:10px;letter-spacing:-0.39px">0.93500</span>
<span class="t" style="left:1583.6px;top:315px;font-size:10px;letter-spacing:-0.39px">0.92740</span>
<span class="t" style="left:1583.6px;top:348px;font-size:10px;letter-spacing:-0.39px">0.91960</span>
<span class="t" style="left:1583.6px;top:381px;font-size:10px;letter-spacing:-0.39px">0.91200</span>
<span class="t" style="left:1583.6px;top:414px;font-size:10px;letter-spacing:-0.39px">0.90420</span>
<span class="t" style="left:1583.6px;top:447px;font-size:10px;letter-spacing:-0.39px">0.89660</span>
<span class="t" style="left:1583.6px;top:480px;font-size:10px;letter-spacing:-0.39px">0.88880</span>
<span class="t" style="left:1583.6px;top:513px;font-size:10px;letter-spacing:-0.39px">0.88100</span>
<span class="t" style="left:1583.6px;top:546px;font-size:10px;letter-spacing:-0.39px">0.87340</span>
<span class="t w" style="left:1580px;top:303px;width:36.4px;height:11px;overflow:hidden;padding-left:3.6px;background:#f00;font-size:10px;letter-spacing:-0.39px"><span style="position:relative;top:-0.5px">0.93001</span></span>
<span class="t w" style="left:1580px;top:358px;width:36.4px;height:11px;overflow:hidden;padding-left:3.6px;background:#f00;font-size:10px;letter-spacing:-0.39px"><span style="position:relative;top:-0.5px">0.91709</span></span>
<span class="t w" style="left:1580px;top:414px;width:36.4px;height:11px;overflow:hidden;padding-left:3.6px;background:#0f0;font-size:10px;letter-spacing:-0.39px"><span style="position:relative;top:-0.5px">0.90406</span></span>
<span class="t w" style="left:1580px;top:451px;width:36.4px;height:11px;overflow:hidden;padding-left:3.6px;background:#000;font-size:10px;letter-spacing:-0.39px"><span style="position:relative;top:-0.5px">0.89564</span></span>
<span class="t w" style="left:1580px;top:474px;width:36.4px;height:11px;overflow:hidden;padding-left:3.6px;background:#00f;font-size:10px;letter-spacing:-0.39px"><span style="position:relative;top:-0.5px">0.89006</span></span>
<span class="t w" style="left:1580px;top:536px;width:36.4px;height:11px;overflow:hidden;padding-left:3.6px;background:#00f;font-size:10px;letter-spacing:-0.39px"><span style="position:relative;top:-0.5px">0.87560</span></span>
<span class="t" style="left:1582px;top:558px;font-size:10px;letter-spacing:-0.39px">100</span>
<span class="t" style="left:1582px;top:581px;font-size:10px;letter-spacing:-0.39px">70</span>
<span class="t" style="left:1582px;top:618px;font-size:10px;letter-spacing:-0.39px">30</span>
<span class="t" style="left:1582px;top:641px;font-size:10px;letter-spacing:-0.39px">0</span>
<span class="t" style="left:1582px;top:656px;font-size:10px;letter-spacing:-0.39px">0.005818</span>
<span class="t" style="left:1582px;top:682px;font-size:10px;letter-spacing:-0.39px">0.00</span>
<span class="t" style="left:1582px;top:739px;font-size:10px;letter-spacing:-0.39px">-0.011514</span>
<span class="t" style="left:1px;top:754px;font-size:9.3px">21 Feb 2020</span>
<span class="t" style="left:65px;top:754px;font-size:9.3px">11 Mar 2020</span>
<span class="t" style="left:129px;top:754px;font-size:9.3px">30 Mar 2020</span>
<span class="t" style="left:193px;top:754px;font-size:9.3px">17 Apr 2020</span>
<span class="t" style="left:257px;top:754px;font-size:9.3px">6 May 2020</span>
<span class="t" style="left:321px;top:754px;font-size:9.3px">25 May 2020</span>
<span class="t" style="left:385px;top:754px;font-size:9.3px">12 Jun 2020</span>
<span class="t" style="left:449px;top:754px;font-size:9.3px">1 Jul 2020</span>
<span class="t" style="left:513px;top:754px;font-size:9.3px">20 Jul 2020</span>
<span class="t" style="left:577px;top:754px;font-size:9.3px">7 Aug 2020</span>
<span class="t" style="left:641px;top:754px;font-size:9.3px">26 Aug 2020</span>
<span class="t" style="left:705px;top:754px;font-size:9.3px">14 Sep 2020</span>
<span class="t" style="left:769px;top:754px;font-size:9.3px">2 Oct 2020</span>
<span class="t" style="left:833px;top:754px;font-size:9.3px">21 Oct 2020</span>
<span class="t" style="left:897px;top:754px;font-size:9.3px">9 Nov 2020</span>
<span class="t" style="left:961px;top:754px;font-size:9.3px">27 Nov 2020</span>
<span class="t" style="left:1025px;top:754px;font-size:9.3px">16 Dec 2020</span>
<span class="t" style="left:1089px;top:754px;font-size:9.3px">6 Jan 2021</span>
<span class="t" style="left:1153px;top:754px;font-size:9.3px">25 Jan 2021</span>
<span class="t" style="left:1217px;top:754px;font-size:9.3px">12 Feb 2021</span>
<span class="tab" style="left:14.3px;letter-spacing:0.07px">EURUSD,Daily</span>
<span class="tab" style="left:117.3px;letter-spacing:0.07px;color:#000">USDCHF,Daily</span>
<span class="tab" style="left:217.3px;letter-spacing:0.25px">AUDUSD,Daily</span>
<span class="tab" style="left:321.3px;letter-spacing:0.16px">USDCAD,Daily</span>
<span class="tab" style="left:424.6px;letter-spacing:0.25px">USDCNH,Daily</span>
<span class="tab" style="left:530.4px;letter-spacing:0.05px">EURUSD,Daily</span>
<span class="tab" style="left:634.7px;letter-spacing:-0.10px">GBPUSD,H4</span>
<span class="tab" style="left:725.9px;letter-spacing:0.30px">XAUUSD,Daily</span>
<span class="tab" style="left:829.7px;letter-spacing:0.34px">HK50,H1</span>
<span class="tab" style="left:901.8px;letter-spacing:0.32px">UK100,H1</span>
<span class="tab" style="left:981.6px;letter-spacing:0.32px">UK100,H1</span>
<span class="tab" style="left:1061.8px;letter-spacing:-0.08px">GER30,H1</span>
<span class="tab" style="left:1141.1px;letter-spacing:-0.21px">FRA40,H1</span>
<span class="tab" style="left:1217.7px;letter-spacing:0.41px">USOil,Weekly</span>
<span class="tab" style="left:1316.9px;letter-spacing:-0.13px">USDJPY,H1</span>
<span class="tab" style="left:1400.9px;letter-spacing:0.20px">DJ30,Daily</span>
<span class="tab" style="left:1480.2px;letter-spacing:0.44px">CHINA300,H1</span>
<span class="tab" style="left:1581px;transform:scaleX(.87);transform-origin:left">U</span>
</body></html>
